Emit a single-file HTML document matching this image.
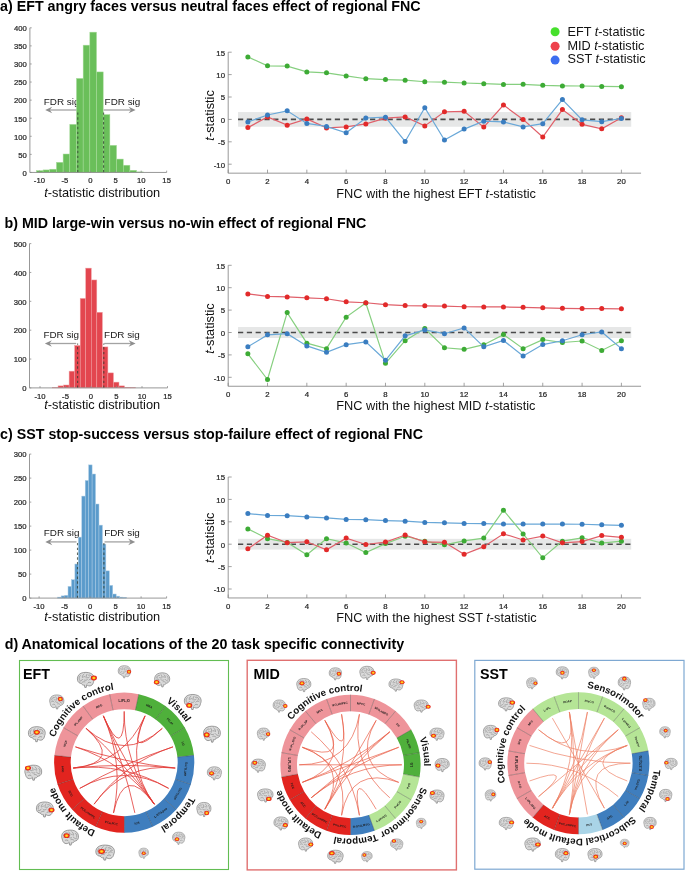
<!DOCTYPE html>
<html><head><meta charset="utf-8"><style>
html,body{margin:0;padding:0;background:#fff;}
body{width:685px;height:871px;overflow:hidden;}
svg{display:block;font-family:"Liberation Sans", sans-serif;will-change:transform;}
.tk{stroke:#262626;stroke-width:0.22px;}
.lb{stroke:#111;stroke-width:0.2px;}
</style></head><body>
<svg width="685" height="871" viewBox="0 0 685 871" font-family='"Liberation Sans", sans-serif'>
<text x="0.10" y="10.80" font-size="14.25" text-anchor="start" font-weight="bold" fill="#000" >a) EFT angry faces versus neutral faces effect of regional FNC</text>
<text x="4.50" y="227.90" font-size="14.25" text-anchor="start" font-weight="bold" fill="#000" >b) MID large-win versus no-win effect of regional FNC</text>
<text x="0.10" y="439.00" font-size="14.25" text-anchor="start" font-weight="bold" fill="#000" >c) SST stop-success versus stop-failure effect of regional FNC</text>
<text x="4.70" y="648.80" font-size="14.25" text-anchor="start" font-weight="bold" fill="#000" >d) Anatomical locations of the 20 task specific connectivity</text>
<line x1="76.8" y1="110.0" x2="49.20" y2="110.0" stroke="#a3a3a3" stroke-width="1.3"/>
<path d="M45.20,110.00 L52.20,106.70 L49.80,110.00 L52.20,113.30 Z" fill="#8e8e8e"/>
<line x1="103.6" y1="110.0" x2="131.60" y2="110.0" stroke="#a3a3a3" stroke-width="1.3"/>
<path d="M135.60,110.00 L128.60,106.70 L131.00,110.00 L128.60,113.30 Z" fill="#8e8e8e"/>
<text x="43.80" y="104.50" font-size="9.9" text-anchor="start" font-weight="normal" fill="#1a1a1a" >FDR sig</text>
<text x="104.60" y="104.50" font-size="9.9" text-anchor="start" font-weight="normal" fill="#1a1a1a" >FDR sig</text>
<rect x="36.40" y="170.64" width="6.68" height="1.81" fill="#6abf5a" stroke="#a8dc9c" stroke-width="0.5"/>
<rect x="43.08" y="169.92" width="6.68" height="2.53" fill="#6abf5a" stroke="#a8dc9c" stroke-width="0.5"/>
<rect x="49.76" y="169.20" width="6.68" height="3.25" fill="#6abf5a" stroke="#a8dc9c" stroke-width="0.5"/>
<rect x="56.44" y="162.33" width="6.68" height="10.12" fill="#6abf5a" stroke="#a8dc9c" stroke-width="0.5"/>
<rect x="63.12" y="154.01" width="6.68" height="18.44" fill="#6abf5a" stroke="#a8dc9c" stroke-width="0.5"/>
<rect x="69.80" y="124.36" width="6.68" height="48.09" fill="#6abf5a" stroke="#a8dc9c" stroke-width="0.5"/>
<rect x="76.48" y="78.43" width="6.68" height="94.02" fill="#6abf5a" stroke="#a8dc9c" stroke-width="0.5"/>
<rect x="83.16" y="45.17" width="6.68" height="127.28" fill="#6abf5a" stroke="#a8dc9c" stroke-width="0.5"/>
<rect x="89.84" y="32.15" width="6.68" height="140.30" fill="#6abf5a" stroke="#a8dc9c" stroke-width="0.5"/>
<rect x="96.52" y="71.93" width="6.68" height="100.52" fill="#6abf5a" stroke="#a8dc9c" stroke-width="0.5"/>
<rect x="103.20" y="114.59" width="6.68" height="57.86" fill="#6abf5a" stroke="#a8dc9c" stroke-width="0.5"/>
<rect x="109.88" y="145.33" width="6.68" height="27.12" fill="#6abf5a" stroke="#a8dc9c" stroke-width="0.5"/>
<rect x="116.56" y="159.07" width="6.68" height="13.38" fill="#6abf5a" stroke="#a8dc9c" stroke-width="0.5"/>
<rect x="123.24" y="165.22" width="6.68" height="7.23" fill="#6abf5a" stroke="#a8dc9c" stroke-width="0.5"/>
<rect x="129.92" y="170.28" width="6.68" height="2.17" fill="#6abf5a" stroke="#a8dc9c" stroke-width="0.5"/>
<rect x="136.60" y="171.91" width="6.68" height="0.54" fill="#6abf5a" stroke="#a8dc9c" stroke-width="0.5"/>
<line x1="77.8" y1="172.45" x2="77.8" y2="110.0" stroke="#2e3a2e" stroke-width="1.1" stroke-dasharray="2.4,2.4" opacity="0.75"/>
<line x1="103.6" y1="172.45" x2="103.6" y2="110.0" stroke="#2e3a2e" stroke-width="1.1" stroke-dasharray="2.4,2.4" opacity="0.75"/>
<path d="M29.9,27.81 L29.9,172.45 L166.65,172.45" fill="none" stroke="#8c8c8c" stroke-width="0.9"/>
<line x1="29.9" y1="172.45" x2="31.7" y2="172.45" stroke="#8c8c8c" stroke-width="0.8"/>
<text x="26.90" y="175.75" font-size="7.7" text-anchor="end" font-weight="normal" fill="#262626" class="tk">0</text>
<line x1="29.9" y1="154.37" x2="31.7" y2="154.37" stroke="#8c8c8c" stroke-width="0.8"/>
<text x="26.90" y="157.67" font-size="7.7" text-anchor="end" font-weight="normal" fill="#262626" class="tk">50</text>
<line x1="29.9" y1="136.29" x2="31.7" y2="136.29" stroke="#8c8c8c" stroke-width="0.8"/>
<text x="26.90" y="139.59" font-size="7.7" text-anchor="end" font-weight="normal" fill="#262626" class="tk">100</text>
<line x1="29.9" y1="118.21" x2="31.7" y2="118.21" stroke="#8c8c8c" stroke-width="0.8"/>
<text x="26.90" y="121.51" font-size="7.7" text-anchor="end" font-weight="normal" fill="#262626" class="tk">150</text>
<line x1="29.9" y1="100.13" x2="31.7" y2="100.13" stroke="#8c8c8c" stroke-width="0.8"/>
<text x="26.90" y="103.43" font-size="7.7" text-anchor="end" font-weight="normal" fill="#262626" class="tk">200</text>
<line x1="29.9" y1="82.05" x2="31.7" y2="82.05" stroke="#8c8c8c" stroke-width="0.8"/>
<text x="26.90" y="85.35" font-size="7.7" text-anchor="end" font-weight="normal" fill="#262626" class="tk">250</text>
<line x1="29.9" y1="63.97" x2="31.7" y2="63.97" stroke="#8c8c8c" stroke-width="0.8"/>
<text x="26.90" y="67.27" font-size="7.7" text-anchor="end" font-weight="normal" fill="#262626" class="tk">300</text>
<line x1="29.9" y1="45.89" x2="31.7" y2="45.89" stroke="#8c8c8c" stroke-width="0.8"/>
<text x="26.90" y="49.19" font-size="7.7" text-anchor="end" font-weight="normal" fill="#262626" class="tk">350</text>
<line x1="29.9" y1="27.81" x2="31.7" y2="27.81" stroke="#8c8c8c" stroke-width="0.8"/>
<text x="26.90" y="31.11" font-size="7.7" text-anchor="end" font-weight="normal" fill="#262626" class="tk">400</text>
<line x1="39.40" y1="172.45" x2="39.40" y2="170.64999999999998" stroke="#8c8c8c" stroke-width="0.8"/>
<text x="39.40" y="183.00" font-size="7.7" text-anchor="middle" font-weight="normal" fill="#262626" class="tk">-10</text>
<line x1="64.85" y1="172.45" x2="64.85" y2="170.64999999999998" stroke="#8c8c8c" stroke-width="0.8"/>
<text x="64.85" y="183.00" font-size="7.7" text-anchor="middle" font-weight="normal" fill="#262626" class="tk">-5</text>
<line x1="90.30" y1="172.45" x2="90.30" y2="170.64999999999998" stroke="#8c8c8c" stroke-width="0.8"/>
<text x="90.30" y="183.00" font-size="7.7" text-anchor="middle" font-weight="normal" fill="#262626" class="tk">0</text>
<line x1="115.75" y1="172.45" x2="115.75" y2="170.64999999999998" stroke="#8c8c8c" stroke-width="0.8"/>
<text x="115.75" y="183.00" font-size="7.7" text-anchor="middle" font-weight="normal" fill="#262626" class="tk">5</text>
<line x1="141.20" y1="172.45" x2="141.20" y2="170.64999999999998" stroke="#8c8c8c" stroke-width="0.8"/>
<text x="141.20" y="183.00" font-size="7.7" text-anchor="middle" font-weight="normal" fill="#262626" class="tk">10</text>
<line x1="166.65" y1="172.45" x2="166.65" y2="170.64999999999998" stroke="#8c8c8c" stroke-width="0.8"/>
<text x="166.65" y="183.00" font-size="7.7" text-anchor="middle" font-weight="normal" fill="#262626" class="tk">15</text>
<text x="44.2" y="197.0" font-size="12.8" fill="#111"><tspan font-style="italic">t</tspan>-statistic distribution</text>
<line x1="76.2" y1="343.5" x2="48.90" y2="343.5" stroke="#a3a3a3" stroke-width="1.3"/>
<path d="M44.90,343.50 L51.90,340.20 L49.50,343.50 L51.90,346.80 Z" fill="#8e8e8e"/>
<line x1="104.3" y1="343.5" x2="131.60" y2="343.5" stroke="#a3a3a3" stroke-width="1.3"/>
<path d="M135.60,343.50 L128.60,340.20 L131.00,343.50 L128.60,346.80 Z" fill="#8e8e8e"/>
<text x="43.40" y="338.40" font-size="9.9" text-anchor="start" font-weight="normal" fill="#1a1a1a" >FDR sig</text>
<text x="104.10" y="338.40" font-size="9.9" text-anchor="start" font-weight="normal" fill="#1a1a1a" >FDR sig</text>
<rect x="52.50" y="387.61" width="5.54" height="0.29" fill="#e3464f" stroke="#f0a0a4" stroke-width="0.5"/>
<rect x="58.04" y="385.88" width="5.54" height="2.02" fill="#e3464f" stroke="#f0a0a4" stroke-width="0.5"/>
<rect x="63.58" y="385.01" width="5.54" height="2.89" fill="#e3464f" stroke="#f0a0a4" stroke-width="0.5"/>
<rect x="69.12" y="371.16" width="5.54" height="16.74" fill="#e3464f" stroke="#f0a0a4" stroke-width="0.5"/>
<rect x="74.66" y="345.48" width="5.54" height="42.42" fill="#e3464f" stroke="#f0a0a4" stroke-width="0.5"/>
<rect x="80.20" y="298.43" width="5.54" height="89.47" fill="#e3464f" stroke="#f0a0a4" stroke-width="0.5"/>
<rect x="85.74" y="268.13" width="5.54" height="119.77" fill="#e3464f" stroke="#f0a0a4" stroke-width="0.5"/>
<rect x="91.28" y="279.96" width="5.54" height="107.94" fill="#e3464f" stroke="#f0a0a4" stroke-width="0.5"/>
<rect x="96.82" y="312.29" width="5.54" height="75.61" fill="#e3464f" stroke="#f0a0a4" stroke-width="0.5"/>
<rect x="102.36" y="346.92" width="5.54" height="40.98" fill="#e3464f" stroke="#f0a0a4" stroke-width="0.5"/>
<rect x="107.90" y="372.89" width="5.54" height="15.01" fill="#e3464f" stroke="#f0a0a4" stroke-width="0.5"/>
<rect x="113.44" y="382.13" width="5.54" height="5.77" fill="#e3464f" stroke="#f0a0a4" stroke-width="0.5"/>
<rect x="118.98" y="385.88" width="5.54" height="2.02" fill="#e3464f" stroke="#f0a0a4" stroke-width="0.5"/>
<rect x="124.52" y="387.32" width="5.54" height="0.58" fill="#e3464f" stroke="#f0a0a4" stroke-width="0.5"/>
<rect x="130.06" y="387.61" width="5.54" height="0.29" fill="#e3464f" stroke="#f0a0a4" stroke-width="0.5"/>
<line x1="77.6" y1="387.9" x2="77.6" y2="343.5" stroke="#2e3a2e" stroke-width="1.1" stroke-dasharray="2.4,2.4" opacity="0.75"/>
<line x1="103.8" y1="387.9" x2="103.8" y2="343.5" stroke="#2e3a2e" stroke-width="1.1" stroke-dasharray="2.4,2.4" opacity="0.75"/>
<path d="M29.5,243.60 L29.5,387.9 L167.50,387.9" fill="none" stroke="#8c8c8c" stroke-width="0.9"/>
<line x1="29.5" y1="387.90" x2="31.3" y2="387.90" stroke="#8c8c8c" stroke-width="0.8"/>
<text x="26.50" y="391.20" font-size="7.7" text-anchor="end" font-weight="normal" fill="#262626" class="tk">0</text>
<line x1="29.5" y1="359.04" x2="31.3" y2="359.04" stroke="#8c8c8c" stroke-width="0.8"/>
<text x="26.50" y="362.34" font-size="7.7" text-anchor="end" font-weight="normal" fill="#262626" class="tk">100</text>
<line x1="29.5" y1="330.18" x2="31.3" y2="330.18" stroke="#8c8c8c" stroke-width="0.8"/>
<text x="26.50" y="333.48" font-size="7.7" text-anchor="end" font-weight="normal" fill="#262626" class="tk">200</text>
<line x1="29.5" y1="301.32" x2="31.3" y2="301.32" stroke="#8c8c8c" stroke-width="0.8"/>
<text x="26.50" y="304.62" font-size="7.7" text-anchor="end" font-weight="normal" fill="#262626" class="tk">300</text>
<line x1="29.5" y1="272.46" x2="31.3" y2="272.46" stroke="#8c8c8c" stroke-width="0.8"/>
<text x="26.50" y="275.76" font-size="7.7" text-anchor="end" font-weight="normal" fill="#262626" class="tk">400</text>
<line x1="29.5" y1="243.60" x2="31.3" y2="243.60" stroke="#8c8c8c" stroke-width="0.8"/>
<text x="26.50" y="246.90" font-size="7.7" text-anchor="end" font-weight="normal" fill="#262626" class="tk">500</text>
<line x1="40.00" y1="387.9" x2="40.00" y2="386.09999999999997" stroke="#8c8c8c" stroke-width="0.8"/>
<text x="40.00" y="399.00" font-size="7.7" text-anchor="middle" font-weight="normal" fill="#262626" class="tk">-10</text>
<line x1="65.50" y1="387.9" x2="65.50" y2="386.09999999999997" stroke="#8c8c8c" stroke-width="0.8"/>
<text x="65.50" y="399.00" font-size="7.7" text-anchor="middle" font-weight="normal" fill="#262626" class="tk">-5</text>
<line x1="91.00" y1="387.9" x2="91.00" y2="386.09999999999997" stroke="#8c8c8c" stroke-width="0.8"/>
<text x="91.00" y="399.00" font-size="7.7" text-anchor="middle" font-weight="normal" fill="#262626" class="tk">0</text>
<line x1="116.50" y1="387.9" x2="116.50" y2="386.09999999999997" stroke="#8c8c8c" stroke-width="0.8"/>
<text x="116.50" y="399.00" font-size="7.7" text-anchor="middle" font-weight="normal" fill="#262626" class="tk">5</text>
<line x1="142.00" y1="387.9" x2="142.00" y2="386.09999999999997" stroke="#8c8c8c" stroke-width="0.8"/>
<text x="142.00" y="399.00" font-size="7.7" text-anchor="middle" font-weight="normal" fill="#262626" class="tk">10</text>
<line x1="167.50" y1="387.9" x2="167.50" y2="386.09999999999997" stroke="#8c8c8c" stroke-width="0.8"/>
<text x="167.50" y="399.00" font-size="7.7" text-anchor="middle" font-weight="normal" fill="#262626" class="tk">15</text>
<text x="44.2" y="409.2" font-size="12.8" fill="#111"><tspan font-style="italic">t</tspan>-statistic distribution</text>
<line x1="76.5" y1="541.9" x2="49.30" y2="541.9" stroke="#a3a3a3" stroke-width="1.3"/>
<path d="M45.30,541.90 L52.30,538.60 L49.90,541.90 L52.30,545.20 Z" fill="#8e8e8e"/>
<line x1="104.5" y1="541.9" x2="131.20" y2="541.9" stroke="#a3a3a3" stroke-width="1.3"/>
<path d="M135.20,541.90 L128.20,538.60 L130.60,541.90 L128.20,545.20 Z" fill="#8e8e8e"/>
<text x="43.80" y="536.20" font-size="9.9" text-anchor="start" font-weight="normal" fill="#1a1a1a" >FDR sig</text>
<text x="104.20" y="536.20" font-size="9.9" text-anchor="start" font-weight="normal" fill="#1a1a1a" >FDR sig</text>
<rect x="57.70" y="597.14" width="3.44" height="0.96" fill="#5b9bcb" stroke="#a9cbe5" stroke-width="0.5"/>
<rect x="61.14" y="595.89" width="3.44" height="2.21" fill="#5b9bcb" stroke="#a9cbe5" stroke-width="0.5"/>
<rect x="64.58" y="595.32" width="3.44" height="2.78" fill="#5b9bcb" stroke="#a9cbe5" stroke-width="0.5"/>
<rect x="68.02" y="586.39" width="3.44" height="11.71" fill="#5b9bcb" stroke="#a9cbe5" stroke-width="0.5"/>
<rect x="71.46" y="579.72" width="3.44" height="18.38" fill="#5b9bcb" stroke="#a9cbe5" stroke-width="0.5"/>
<rect x="74.90" y="564.02" width="3.44" height="34.08" fill="#5b9bcb" stroke="#a9cbe5" stroke-width="0.5"/>
<rect x="78.34" y="537.14" width="3.44" height="60.96" fill="#5b9bcb" stroke="#a9cbe5" stroke-width="0.5"/>
<rect x="81.78" y="496.10" width="3.44" height="102.00" fill="#5b9bcb" stroke="#a9cbe5" stroke-width="0.5"/>
<rect x="85.22" y="480.50" width="3.44" height="117.60" fill="#5b9bcb" stroke="#a9cbe5" stroke-width="0.5"/>
<rect x="88.66" y="464.90" width="3.44" height="133.20" fill="#5b9bcb" stroke="#a9cbe5" stroke-width="0.5"/>
<rect x="92.10" y="474.02" width="3.44" height="124.08" fill="#5b9bcb" stroke="#a9cbe5" stroke-width="0.5"/>
<rect x="95.54" y="504.02" width="3.44" height="94.08" fill="#5b9bcb" stroke="#a9cbe5" stroke-width="0.5"/>
<rect x="98.98" y="525.14" width="3.44" height="72.96" fill="#5b9bcb" stroke="#a9cbe5" stroke-width="0.5"/>
<rect x="102.42" y="544.10" width="3.44" height="54.00" fill="#5b9bcb" stroke="#a9cbe5" stroke-width="0.5"/>
<rect x="105.86" y="570.88" width="3.44" height="27.22" fill="#5b9bcb" stroke="#a9cbe5" stroke-width="0.5"/>
<rect x="109.30" y="585.38" width="3.44" height="12.72" fill="#5b9bcb" stroke="#a9cbe5" stroke-width="0.5"/>
<rect x="112.74" y="594.02" width="3.44" height="4.08" fill="#5b9bcb" stroke="#a9cbe5" stroke-width="0.5"/>
<rect x="116.18" y="596.18" width="3.44" height="1.92" fill="#5b9bcb" stroke="#a9cbe5" stroke-width="0.5"/>
<rect x="119.62" y="597.14" width="3.44" height="0.96" fill="#5b9bcb" stroke="#a9cbe5" stroke-width="0.5"/>
<rect x="123.06" y="597.38" width="3.44" height="0.72" fill="#5b9bcb" stroke="#a9cbe5" stroke-width="0.5"/>
<line x1="77.5" y1="598.1" x2="77.5" y2="541.9" stroke="#2e3a2e" stroke-width="1.1" stroke-dasharray="2.4,2.4" opacity="0.75"/>
<line x1="103.9" y1="598.1" x2="103.9" y2="541.9" stroke="#2e3a2e" stroke-width="1.1" stroke-dasharray="2.4,2.4" opacity="0.75"/>
<path d="M29.5,454.10 L29.5,598.1 L166.60,598.1" fill="none" stroke="#8c8c8c" stroke-width="0.9"/>
<line x1="29.5" y1="598.10" x2="31.3" y2="598.10" stroke="#8c8c8c" stroke-width="0.8"/>
<text x="26.50" y="601.40" font-size="7.7" text-anchor="end" font-weight="normal" fill="#262626" class="tk">0</text>
<line x1="29.5" y1="574.10" x2="31.3" y2="574.10" stroke="#8c8c8c" stroke-width="0.8"/>
<text x="26.50" y="577.40" font-size="7.7" text-anchor="end" font-weight="normal" fill="#262626" class="tk">50</text>
<line x1="29.5" y1="550.10" x2="31.3" y2="550.10" stroke="#8c8c8c" stroke-width="0.8"/>
<text x="26.50" y="553.40" font-size="7.7" text-anchor="end" font-weight="normal" fill="#262626" class="tk">100</text>
<line x1="29.5" y1="526.10" x2="31.3" y2="526.10" stroke="#8c8c8c" stroke-width="0.8"/>
<text x="26.50" y="529.40" font-size="7.7" text-anchor="end" font-weight="normal" fill="#262626" class="tk">150</text>
<line x1="29.5" y1="502.10" x2="31.3" y2="502.10" stroke="#8c8c8c" stroke-width="0.8"/>
<text x="26.50" y="505.40" font-size="7.7" text-anchor="end" font-weight="normal" fill="#262626" class="tk">200</text>
<line x1="29.5" y1="478.10" x2="31.3" y2="478.10" stroke="#8c8c8c" stroke-width="0.8"/>
<text x="26.50" y="481.40" font-size="7.7" text-anchor="end" font-weight="normal" fill="#262626" class="tk">250</text>
<line x1="29.5" y1="454.10" x2="31.3" y2="454.10" stroke="#8c8c8c" stroke-width="0.8"/>
<text x="26.50" y="457.40" font-size="7.7" text-anchor="end" font-weight="normal" fill="#262626" class="tk">300</text>
<line x1="39.10" y1="598.1" x2="39.10" y2="596.3000000000001" stroke="#8c8c8c" stroke-width="0.8"/>
<text x="39.10" y="609.00" font-size="7.7" text-anchor="middle" font-weight="normal" fill="#262626" class="tk">-10</text>
<line x1="64.60" y1="598.1" x2="64.60" y2="596.3000000000001" stroke="#8c8c8c" stroke-width="0.8"/>
<text x="64.60" y="609.00" font-size="7.7" text-anchor="middle" font-weight="normal" fill="#262626" class="tk">-5</text>
<line x1="90.10" y1="598.1" x2="90.10" y2="596.3000000000001" stroke="#8c8c8c" stroke-width="0.8"/>
<text x="90.10" y="609.00" font-size="7.7" text-anchor="middle" font-weight="normal" fill="#262626" class="tk">0</text>
<line x1="115.60" y1="598.1" x2="115.60" y2="596.3000000000001" stroke="#8c8c8c" stroke-width="0.8"/>
<text x="115.60" y="609.00" font-size="7.7" text-anchor="middle" font-weight="normal" fill="#262626" class="tk">5</text>
<line x1="141.10" y1="598.1" x2="141.10" y2="596.3000000000001" stroke="#8c8c8c" stroke-width="0.8"/>
<text x="141.10" y="609.00" font-size="7.7" text-anchor="middle" font-weight="normal" fill="#262626" class="tk">10</text>
<line x1="166.60" y1="598.1" x2="166.60" y2="596.3000000000001" stroke="#8c8c8c" stroke-width="0.8"/>
<text x="166.60" y="609.00" font-size="7.7" text-anchor="middle" font-weight="normal" fill="#262626" class="tk">15</text>
<text x="44.2" y="621.0" font-size="12.8" fill="#111"><tspan font-style="italic">t</tspan>-statistic distribution</text>
<rect x="238.03" y="112.05" width="393.20" height="14.69" fill="#e6e7e7"/>
<line x1="238.03" y1="119.4" x2="631.23" y2="119.4" stroke="#4a4a4a" stroke-width="1.6" stroke-dasharray="5.2,3.6"/>
<path d="M228.2,52.20 L228.2,173.16 L641.06,173.16" fill="none" stroke="#8c8c8c" stroke-width="0.9"/>
<line x1="228.2" y1="164.20" x2="231.7" y2="164.20" stroke="#8c8c8c" stroke-width="0.8"/>
<text x="225.00" y="167.50" font-size="7.8" text-anchor="end" font-weight="normal" fill="#262626" class="tk">-10</text>
<line x1="228.2" y1="141.80" x2="231.7" y2="141.80" stroke="#8c8c8c" stroke-width="0.8"/>
<text x="225.00" y="145.10" font-size="7.8" text-anchor="end" font-weight="normal" fill="#262626" class="tk">-5</text>
<line x1="228.2" y1="119.40" x2="231.7" y2="119.40" stroke="#8c8c8c" stroke-width="0.8"/>
<text x="225.00" y="122.70" font-size="7.8" text-anchor="end" font-weight="normal" fill="#262626" class="tk">0</text>
<line x1="228.2" y1="97.00" x2="231.7" y2="97.00" stroke="#8c8c8c" stroke-width="0.8"/>
<text x="225.00" y="100.30" font-size="7.8" text-anchor="end" font-weight="normal" fill="#262626" class="tk">5</text>
<line x1="228.2" y1="74.60" x2="231.7" y2="74.60" stroke="#8c8c8c" stroke-width="0.8"/>
<text x="225.00" y="77.90" font-size="7.8" text-anchor="end" font-weight="normal" fill="#262626" class="tk">10</text>
<line x1="228.2" y1="52.20" x2="231.7" y2="52.20" stroke="#8c8c8c" stroke-width="0.8"/>
<text x="225.00" y="55.50" font-size="7.8" text-anchor="end" font-weight="normal" fill="#262626" class="tk">15</text>
<line x1="228.20" y1="173.16" x2="228.20" y2="169.66" stroke="#8c8c8c" stroke-width="0.8"/>
<text x="228.20" y="183.80" font-size="7.8" text-anchor="middle" font-weight="normal" fill="#262626" class="tk">0</text>
<line x1="267.52" y1="173.16" x2="267.52" y2="169.66" stroke="#8c8c8c" stroke-width="0.8"/>
<text x="267.52" y="183.80" font-size="7.8" text-anchor="middle" font-weight="normal" fill="#262626" class="tk">2</text>
<line x1="306.84" y1="173.16" x2="306.84" y2="169.66" stroke="#8c8c8c" stroke-width="0.8"/>
<text x="306.84" y="183.80" font-size="7.8" text-anchor="middle" font-weight="normal" fill="#262626" class="tk">4</text>
<line x1="346.16" y1="173.16" x2="346.16" y2="169.66" stroke="#8c8c8c" stroke-width="0.8"/>
<text x="346.16" y="183.80" font-size="7.8" text-anchor="middle" font-weight="normal" fill="#262626" class="tk">6</text>
<line x1="385.48" y1="173.16" x2="385.48" y2="169.66" stroke="#8c8c8c" stroke-width="0.8"/>
<text x="385.48" y="183.80" font-size="7.8" text-anchor="middle" font-weight="normal" fill="#262626" class="tk">8</text>
<line x1="424.80" y1="173.16" x2="424.80" y2="169.66" stroke="#8c8c8c" stroke-width="0.8"/>
<text x="424.80" y="183.80" font-size="7.8" text-anchor="middle" font-weight="normal" fill="#262626" class="tk">10</text>
<line x1="464.12" y1="173.16" x2="464.12" y2="169.66" stroke="#8c8c8c" stroke-width="0.8"/>
<text x="464.12" y="183.80" font-size="7.8" text-anchor="middle" font-weight="normal" fill="#262626" class="tk">12</text>
<line x1="503.44" y1="173.16" x2="503.44" y2="169.66" stroke="#8c8c8c" stroke-width="0.8"/>
<text x="503.44" y="183.80" font-size="7.8" text-anchor="middle" font-weight="normal" fill="#262626" class="tk">14</text>
<line x1="542.76" y1="173.16" x2="542.76" y2="169.66" stroke="#8c8c8c" stroke-width="0.8"/>
<text x="542.76" y="183.80" font-size="7.8" text-anchor="middle" font-weight="normal" fill="#262626" class="tk">16</text>
<line x1="582.08" y1="173.16" x2="582.08" y2="169.66" stroke="#8c8c8c" stroke-width="0.8"/>
<text x="582.08" y="183.80" font-size="7.8" text-anchor="middle" font-weight="normal" fill="#262626" class="tk">18</text>
<line x1="621.40" y1="173.16" x2="621.40" y2="169.66" stroke="#8c8c8c" stroke-width="0.8"/>
<text x="621.40" y="183.80" font-size="7.8" text-anchor="middle" font-weight="normal" fill="#262626" class="tk">20</text>
<polyline points="247.86,56.90 267.52,65.82 287.18,66.09 306.84,71.91 326.50,72.81 346.16,75.94 365.82,78.72 385.48,79.53 405.14,80.20 424.80,81.77 444.46,82.22 464.12,82.98 483.78,83.69 503.44,84.46 523.10,84.28 542.76,85.35 562.42,85.89 582.08,86.02 601.74,86.38 621.40,86.70" fill="none" stroke="#86cf7f" stroke-width="1.2"/>
<circle cx="247.86" cy="56.90" r="2.5" fill="#3dab35"/>
<circle cx="267.52" cy="65.82" r="2.5" fill="#3dab35"/>
<circle cx="287.18" cy="66.09" r="2.5" fill="#3dab35"/>
<circle cx="306.84" cy="71.91" r="2.5" fill="#3dab35"/>
<circle cx="326.50" cy="72.81" r="2.5" fill="#3dab35"/>
<circle cx="346.16" cy="75.94" r="2.5" fill="#3dab35"/>
<circle cx="365.82" cy="78.72" r="2.5" fill="#3dab35"/>
<circle cx="385.48" cy="79.53" r="2.5" fill="#3dab35"/>
<circle cx="405.14" cy="80.20" r="2.5" fill="#3dab35"/>
<circle cx="424.80" cy="81.77" r="2.5" fill="#3dab35"/>
<circle cx="444.46" cy="82.22" r="2.5" fill="#3dab35"/>
<circle cx="464.12" cy="82.98" r="2.5" fill="#3dab35"/>
<circle cx="483.78" cy="83.69" r="2.5" fill="#3dab35"/>
<circle cx="503.44" cy="84.46" r="2.5" fill="#3dab35"/>
<circle cx="523.10" cy="84.28" r="2.5" fill="#3dab35"/>
<circle cx="542.76" cy="85.35" r="2.5" fill="#3dab35"/>
<circle cx="562.42" cy="85.89" r="2.5" fill="#3dab35"/>
<circle cx="582.08" cy="86.02" r="2.5" fill="#3dab35"/>
<circle cx="601.74" cy="86.38" r="2.5" fill="#3dab35"/>
<circle cx="621.40" cy="86.70" r="2.5" fill="#3dab35"/>
<polyline points="247.86,127.60 267.52,116.98 287.18,125.13 306.84,118.95 326.50,127.91 346.16,126.88 365.82,123.88 385.48,118.19 405.14,116.98 424.80,125.90 444.46,111.78 464.12,111.34 483.78,127.11 503.44,105.06 523.10,119.40 542.76,137.05 562.42,109.54 582.08,124.33 601.74,128.81 621.40,117.70" fill="none" stroke="#e0606a" stroke-width="1.2"/>
<circle cx="247.86" cy="127.60" r="2.5" fill="#e22a2a"/>
<circle cx="267.52" cy="116.98" r="2.5" fill="#e22a2a"/>
<circle cx="287.18" cy="125.13" r="2.5" fill="#e22a2a"/>
<circle cx="306.84" cy="118.95" r="2.5" fill="#e22a2a"/>
<circle cx="326.50" cy="127.91" r="2.5" fill="#e22a2a"/>
<circle cx="346.16" cy="126.88" r="2.5" fill="#e22a2a"/>
<circle cx="365.82" cy="123.88" r="2.5" fill="#e22a2a"/>
<circle cx="385.48" cy="118.19" r="2.5" fill="#e22a2a"/>
<circle cx="405.14" cy="116.98" r="2.5" fill="#e22a2a"/>
<circle cx="424.80" cy="125.90" r="2.5" fill="#e22a2a"/>
<circle cx="444.46" cy="111.78" r="2.5" fill="#e22a2a"/>
<circle cx="464.12" cy="111.34" r="2.5" fill="#e22a2a"/>
<circle cx="483.78" cy="127.11" r="2.5" fill="#e22a2a"/>
<circle cx="503.44" cy="105.06" r="2.5" fill="#e22a2a"/>
<circle cx="523.10" cy="119.40" r="2.5" fill="#e22a2a"/>
<circle cx="542.76" cy="137.05" r="2.5" fill="#e22a2a"/>
<circle cx="562.42" cy="109.54" r="2.5" fill="#e22a2a"/>
<circle cx="582.08" cy="124.33" r="2.5" fill="#e22a2a"/>
<circle cx="601.74" cy="128.81" r="2.5" fill="#e22a2a"/>
<circle cx="621.40" cy="117.70" r="2.5" fill="#e22a2a"/>
<polyline points="247.86,121.91 267.52,115.01 287.18,110.80 306.84,123.43 326.50,126.39 346.16,132.84 365.82,118.01 385.48,117.20 405.14,141.49 424.80,107.75 444.46,140.01 464.12,129.12 483.78,121.19 503.44,121.91 523.10,126.88 542.76,123.70 562.42,99.60 582.08,119.85 601.74,121.64 621.40,118.50" fill="none" stroke="#6aa8d8" stroke-width="1.2"/>
<circle cx="247.86" cy="121.91" r="2.5" fill="#3a7dc0"/>
<circle cx="267.52" cy="115.01" r="2.5" fill="#3a7dc0"/>
<circle cx="287.18" cy="110.80" r="2.5" fill="#3a7dc0"/>
<circle cx="306.84" cy="123.43" r="2.5" fill="#3a7dc0"/>
<circle cx="326.50" cy="126.39" r="2.5" fill="#3a7dc0"/>
<circle cx="346.16" cy="132.84" r="2.5" fill="#3a7dc0"/>
<circle cx="365.82" cy="118.01" r="2.5" fill="#3a7dc0"/>
<circle cx="385.48" cy="117.20" r="2.5" fill="#3a7dc0"/>
<circle cx="405.14" cy="141.49" r="2.5" fill="#3a7dc0"/>
<circle cx="424.80" cy="107.75" r="2.5" fill="#3a7dc0"/>
<circle cx="444.46" cy="140.01" r="2.5" fill="#3a7dc0"/>
<circle cx="464.12" cy="129.12" r="2.5" fill="#3a7dc0"/>
<circle cx="483.78" cy="121.19" r="2.5" fill="#3a7dc0"/>
<circle cx="503.44" cy="121.91" r="2.5" fill="#3a7dc0"/>
<circle cx="523.10" cy="126.88" r="2.5" fill="#3a7dc0"/>
<circle cx="542.76" cy="123.70" r="2.5" fill="#3a7dc0"/>
<circle cx="562.42" cy="99.60" r="2.5" fill="#3a7dc0"/>
<circle cx="582.08" cy="119.85" r="2.5" fill="#3a7dc0"/>
<circle cx="601.74" cy="121.64" r="2.5" fill="#3a7dc0"/>
<circle cx="621.40" cy="118.50" r="2.5" fill="#3a7dc0"/>
<text transform="translate(214.2,115.40) rotate(-90)" font-size="12.8" text-anchor="middle" fill="#111"><tspan font-style="italic">t</tspan>-statistic</text>
<text x="336.3" y="198.0" font-size="12.75" fill="#111">FNC with the highest EFT <tspan font-style="italic">t</tspan>-statistic</text>
<rect x="238.03" y="327.03" width="393.20" height="10.93" fill="#e6e7e7"/>
<line x1="238.03" y1="332.5" x2="631.23" y2="332.5" stroke="#4a4a4a" stroke-width="1.6" stroke-dasharray="5.2,3.6"/>
<path d="M228.2,265.30 L228.2,386.26 L641.06,386.26" fill="none" stroke="#8c8c8c" stroke-width="0.9"/>
<line x1="228.2" y1="377.30" x2="231.7" y2="377.30" stroke="#8c8c8c" stroke-width="0.8"/>
<text x="225.00" y="380.60" font-size="7.8" text-anchor="end" font-weight="normal" fill="#262626" class="tk">-10</text>
<line x1="228.2" y1="354.90" x2="231.7" y2="354.90" stroke="#8c8c8c" stroke-width="0.8"/>
<text x="225.00" y="358.20" font-size="7.8" text-anchor="end" font-weight="normal" fill="#262626" class="tk">-5</text>
<line x1="228.2" y1="332.50" x2="231.7" y2="332.50" stroke="#8c8c8c" stroke-width="0.8"/>
<text x="225.00" y="335.80" font-size="7.8" text-anchor="end" font-weight="normal" fill="#262626" class="tk">0</text>
<line x1="228.2" y1="310.10" x2="231.7" y2="310.10" stroke="#8c8c8c" stroke-width="0.8"/>
<text x="225.00" y="313.40" font-size="7.8" text-anchor="end" font-weight="normal" fill="#262626" class="tk">5</text>
<line x1="228.2" y1="287.70" x2="231.7" y2="287.70" stroke="#8c8c8c" stroke-width="0.8"/>
<text x="225.00" y="291.00" font-size="7.8" text-anchor="end" font-weight="normal" fill="#262626" class="tk">10</text>
<line x1="228.2" y1="265.30" x2="231.7" y2="265.30" stroke="#8c8c8c" stroke-width="0.8"/>
<text x="225.00" y="268.60" font-size="7.8" text-anchor="end" font-weight="normal" fill="#262626" class="tk">15</text>
<line x1="228.20" y1="386.26" x2="228.20" y2="382.76" stroke="#8c8c8c" stroke-width="0.8"/>
<text x="228.20" y="396.80" font-size="7.8" text-anchor="middle" font-weight="normal" fill="#262626" class="tk">0</text>
<line x1="267.52" y1="386.26" x2="267.52" y2="382.76" stroke="#8c8c8c" stroke-width="0.8"/>
<text x="267.52" y="396.80" font-size="7.8" text-anchor="middle" font-weight="normal" fill="#262626" class="tk">2</text>
<line x1="306.84" y1="386.26" x2="306.84" y2="382.76" stroke="#8c8c8c" stroke-width="0.8"/>
<text x="306.84" y="396.80" font-size="7.8" text-anchor="middle" font-weight="normal" fill="#262626" class="tk">4</text>
<line x1="346.16" y1="386.26" x2="346.16" y2="382.76" stroke="#8c8c8c" stroke-width="0.8"/>
<text x="346.16" y="396.80" font-size="7.8" text-anchor="middle" font-weight="normal" fill="#262626" class="tk">6</text>
<line x1="385.48" y1="386.26" x2="385.48" y2="382.76" stroke="#8c8c8c" stroke-width="0.8"/>
<text x="385.48" y="396.80" font-size="7.8" text-anchor="middle" font-weight="normal" fill="#262626" class="tk">8</text>
<line x1="424.80" y1="386.26" x2="424.80" y2="382.76" stroke="#8c8c8c" stroke-width="0.8"/>
<text x="424.80" y="396.80" font-size="7.8" text-anchor="middle" font-weight="normal" fill="#262626" class="tk">10</text>
<line x1="464.12" y1="386.26" x2="464.12" y2="382.76" stroke="#8c8c8c" stroke-width="0.8"/>
<text x="464.12" y="396.80" font-size="7.8" text-anchor="middle" font-weight="normal" fill="#262626" class="tk">12</text>
<line x1="503.44" y1="386.26" x2="503.44" y2="382.76" stroke="#8c8c8c" stroke-width="0.8"/>
<text x="503.44" y="396.80" font-size="7.8" text-anchor="middle" font-weight="normal" fill="#262626" class="tk">14</text>
<line x1="542.76" y1="386.26" x2="542.76" y2="382.76" stroke="#8c8c8c" stroke-width="0.8"/>
<text x="542.76" y="396.80" font-size="7.8" text-anchor="middle" font-weight="normal" fill="#262626" class="tk">16</text>
<line x1="582.08" y1="386.26" x2="582.08" y2="382.76" stroke="#8c8c8c" stroke-width="0.8"/>
<text x="582.08" y="396.80" font-size="7.8" text-anchor="middle" font-weight="normal" fill="#262626" class="tk">18</text>
<line x1="621.40" y1="386.26" x2="621.40" y2="382.76" stroke="#8c8c8c" stroke-width="0.8"/>
<text x="621.40" y="396.80" font-size="7.8" text-anchor="middle" font-weight="normal" fill="#262626" class="tk">20</text>
<polyline points="247.86,353.87 267.52,379.54 287.18,312.56 306.84,343.16 326.50,348.63 346.16,317.13 365.82,303.07 385.48,363.32 405.14,340.70 424.80,328.47 444.46,347.73 464.12,349.30 483.78,344.69 503.44,334.61 523.10,348.63 542.76,339.58 562.42,342.49 582.08,341.01 601.74,350.42 621.40,340.79" fill="none" stroke="#86cf7f" stroke-width="1.2"/>
<circle cx="247.86" cy="353.87" r="2.5" fill="#3dab35"/>
<circle cx="267.52" cy="379.54" r="2.5" fill="#3dab35"/>
<circle cx="287.18" cy="312.56" r="2.5" fill="#3dab35"/>
<circle cx="306.84" cy="343.16" r="2.5" fill="#3dab35"/>
<circle cx="326.50" cy="348.63" r="2.5" fill="#3dab35"/>
<circle cx="346.16" cy="317.13" r="2.5" fill="#3dab35"/>
<circle cx="365.82" cy="303.07" r="2.5" fill="#3dab35"/>
<circle cx="385.48" cy="363.32" r="2.5" fill="#3dab35"/>
<circle cx="405.14" cy="340.70" r="2.5" fill="#3dab35"/>
<circle cx="424.80" cy="328.47" r="2.5" fill="#3dab35"/>
<circle cx="444.46" cy="347.73" r="2.5" fill="#3dab35"/>
<circle cx="464.12" cy="349.30" r="2.5" fill="#3dab35"/>
<circle cx="483.78" cy="344.69" r="2.5" fill="#3dab35"/>
<circle cx="503.44" cy="334.61" r="2.5" fill="#3dab35"/>
<circle cx="523.10" cy="348.63" r="2.5" fill="#3dab35"/>
<circle cx="542.76" cy="339.58" r="2.5" fill="#3dab35"/>
<circle cx="562.42" cy="342.49" r="2.5" fill="#3dab35"/>
<circle cx="582.08" cy="341.01" r="2.5" fill="#3dab35"/>
<circle cx="601.74" cy="350.42" r="2.5" fill="#3dab35"/>
<circle cx="621.40" cy="340.79" r="2.5" fill="#3dab35"/>
<polyline points="247.86,346.84 267.52,334.87 287.18,333.71 306.84,345.94 326.50,352.35 346.16,344.69 365.82,341.91 385.48,360.28 405.14,335.82 424.80,329.99 444.46,333.71 464.12,327.93 483.78,346.84 503.44,340.43 523.10,355.98 542.76,344.60 562.42,340.79 582.08,334.74 601.74,331.92 621.40,348.63" fill="none" stroke="#6aa8d8" stroke-width="1.2"/>
<circle cx="247.86" cy="346.84" r="2.5" fill="#3a7dc0"/>
<circle cx="267.52" cy="334.87" r="2.5" fill="#3a7dc0"/>
<circle cx="287.18" cy="333.71" r="2.5" fill="#3a7dc0"/>
<circle cx="306.84" cy="345.94" r="2.5" fill="#3a7dc0"/>
<circle cx="326.50" cy="352.35" r="2.5" fill="#3a7dc0"/>
<circle cx="346.16" cy="344.69" r="2.5" fill="#3a7dc0"/>
<circle cx="365.82" cy="341.91" r="2.5" fill="#3a7dc0"/>
<circle cx="385.48" cy="360.28" r="2.5" fill="#3a7dc0"/>
<circle cx="405.14" cy="335.82" r="2.5" fill="#3a7dc0"/>
<circle cx="424.80" cy="329.99" r="2.5" fill="#3a7dc0"/>
<circle cx="444.46" cy="333.71" r="2.5" fill="#3a7dc0"/>
<circle cx="464.12" cy="327.93" r="2.5" fill="#3a7dc0"/>
<circle cx="483.78" cy="346.84" r="2.5" fill="#3a7dc0"/>
<circle cx="503.44" cy="340.43" r="2.5" fill="#3a7dc0"/>
<circle cx="523.10" cy="355.98" r="2.5" fill="#3a7dc0"/>
<circle cx="542.76" cy="344.60" r="2.5" fill="#3a7dc0"/>
<circle cx="562.42" cy="340.79" r="2.5" fill="#3a7dc0"/>
<circle cx="582.08" cy="334.74" r="2.5" fill="#3a7dc0"/>
<circle cx="601.74" cy="331.92" r="2.5" fill="#3a7dc0"/>
<circle cx="621.40" cy="348.63" r="2.5" fill="#3a7dc0"/>
<polyline points="247.86,293.88 267.52,296.39 287.18,296.97 306.84,297.87 326.50,298.77 346.16,301.86 365.82,302.75 385.48,304.68 405.14,305.58 424.80,305.84 444.46,306.07 464.12,306.74 483.78,306.96 503.44,306.96 523.10,307.37 542.76,307.86 562.42,308.35 582.08,308.53 601.74,308.53 621.40,308.85" fill="none" stroke="#e0606a" stroke-width="1.2"/>
<circle cx="247.86" cy="293.88" r="2.5" fill="#e22a2a"/>
<circle cx="267.52" cy="296.39" r="2.5" fill="#e22a2a"/>
<circle cx="287.18" cy="296.97" r="2.5" fill="#e22a2a"/>
<circle cx="306.84" cy="297.87" r="2.5" fill="#e22a2a"/>
<circle cx="326.50" cy="298.77" r="2.5" fill="#e22a2a"/>
<circle cx="346.16" cy="301.86" r="2.5" fill="#e22a2a"/>
<circle cx="365.82" cy="302.75" r="2.5" fill="#e22a2a"/>
<circle cx="385.48" cy="304.68" r="2.5" fill="#e22a2a"/>
<circle cx="405.14" cy="305.58" r="2.5" fill="#e22a2a"/>
<circle cx="424.80" cy="305.84" r="2.5" fill="#e22a2a"/>
<circle cx="444.46" cy="306.07" r="2.5" fill="#e22a2a"/>
<circle cx="464.12" cy="306.74" r="2.5" fill="#e22a2a"/>
<circle cx="483.78" cy="306.96" r="2.5" fill="#e22a2a"/>
<circle cx="503.44" cy="306.96" r="2.5" fill="#e22a2a"/>
<circle cx="523.10" cy="307.37" r="2.5" fill="#e22a2a"/>
<circle cx="542.76" cy="307.86" r="2.5" fill="#e22a2a"/>
<circle cx="562.42" cy="308.35" r="2.5" fill="#e22a2a"/>
<circle cx="582.08" cy="308.53" r="2.5" fill="#e22a2a"/>
<circle cx="601.74" cy="308.53" r="2.5" fill="#e22a2a"/>
<circle cx="621.40" cy="308.85" r="2.5" fill="#e22a2a"/>
<text transform="translate(214.2,328.50) rotate(-90)" font-size="12.8" text-anchor="middle" fill="#111"><tspan font-style="italic">t</tspan>-statistic</text>
<text x="336.3" y="410.1" font-size="12.75" fill="#111">FNC with the highest MID <tspan font-style="italic">t</tspan>-statistic</text>
<rect x="238.03" y="538.82" width="393.20" height="10.75" fill="#e6e7e7"/>
<line x1="238.03" y1="544.2" x2="631.23" y2="544.2" stroke="#4a4a4a" stroke-width="1.6" stroke-dasharray="5.2,3.6"/>
<path d="M228.2,477.00 L228.2,597.96 L641.06,597.96" fill="none" stroke="#8c8c8c" stroke-width="0.9"/>
<line x1="228.2" y1="589.00" x2="231.7" y2="589.00" stroke="#8c8c8c" stroke-width="0.8"/>
<text x="225.00" y="592.30" font-size="7.8" text-anchor="end" font-weight="normal" fill="#262626" class="tk">-10</text>
<line x1="228.2" y1="566.60" x2="231.7" y2="566.60" stroke="#8c8c8c" stroke-width="0.8"/>
<text x="225.00" y="569.90" font-size="7.8" text-anchor="end" font-weight="normal" fill="#262626" class="tk">-5</text>
<line x1="228.2" y1="544.20" x2="231.7" y2="544.20" stroke="#8c8c8c" stroke-width="0.8"/>
<text x="225.00" y="547.50" font-size="7.8" text-anchor="end" font-weight="normal" fill="#262626" class="tk">0</text>
<line x1="228.2" y1="521.80" x2="231.7" y2="521.80" stroke="#8c8c8c" stroke-width="0.8"/>
<text x="225.00" y="525.10" font-size="7.8" text-anchor="end" font-weight="normal" fill="#262626" class="tk">5</text>
<line x1="228.2" y1="499.40" x2="231.7" y2="499.40" stroke="#8c8c8c" stroke-width="0.8"/>
<text x="225.00" y="502.70" font-size="7.8" text-anchor="end" font-weight="normal" fill="#262626" class="tk">10</text>
<line x1="228.2" y1="477.00" x2="231.7" y2="477.00" stroke="#8c8c8c" stroke-width="0.8"/>
<text x="225.00" y="480.30" font-size="7.8" text-anchor="end" font-weight="normal" fill="#262626" class="tk">15</text>
<line x1="228.20" y1="597.96" x2="228.20" y2="594.46" stroke="#8c8c8c" stroke-width="0.8"/>
<text x="228.20" y="608.60" font-size="7.8" text-anchor="middle" font-weight="normal" fill="#262626" class="tk">0</text>
<line x1="267.52" y1="597.96" x2="267.52" y2="594.46" stroke="#8c8c8c" stroke-width="0.8"/>
<text x="267.52" y="608.60" font-size="7.8" text-anchor="middle" font-weight="normal" fill="#262626" class="tk">2</text>
<line x1="306.84" y1="597.96" x2="306.84" y2="594.46" stroke="#8c8c8c" stroke-width="0.8"/>
<text x="306.84" y="608.60" font-size="7.8" text-anchor="middle" font-weight="normal" fill="#262626" class="tk">4</text>
<line x1="346.16" y1="597.96" x2="346.16" y2="594.46" stroke="#8c8c8c" stroke-width="0.8"/>
<text x="346.16" y="608.60" font-size="7.8" text-anchor="middle" font-weight="normal" fill="#262626" class="tk">6</text>
<line x1="385.48" y1="597.96" x2="385.48" y2="594.46" stroke="#8c8c8c" stroke-width="0.8"/>
<text x="385.48" y="608.60" font-size="7.8" text-anchor="middle" font-weight="normal" fill="#262626" class="tk">8</text>
<line x1="424.80" y1="597.96" x2="424.80" y2="594.46" stroke="#8c8c8c" stroke-width="0.8"/>
<text x="424.80" y="608.60" font-size="7.8" text-anchor="middle" font-weight="normal" fill="#262626" class="tk">10</text>
<line x1="464.12" y1="597.96" x2="464.12" y2="594.46" stroke="#8c8c8c" stroke-width="0.8"/>
<text x="464.12" y="608.60" font-size="7.8" text-anchor="middle" font-weight="normal" fill="#262626" class="tk">12</text>
<line x1="503.44" y1="597.96" x2="503.44" y2="594.46" stroke="#8c8c8c" stroke-width="0.8"/>
<text x="503.44" y="608.60" font-size="7.8" text-anchor="middle" font-weight="normal" fill="#262626" class="tk">14</text>
<line x1="542.76" y1="597.96" x2="542.76" y2="594.46" stroke="#8c8c8c" stroke-width="0.8"/>
<text x="542.76" y="608.60" font-size="7.8" text-anchor="middle" font-weight="normal" fill="#262626" class="tk">16</text>
<line x1="582.08" y1="597.96" x2="582.08" y2="594.46" stroke="#8c8c8c" stroke-width="0.8"/>
<text x="582.08" y="608.60" font-size="7.8" text-anchor="middle" font-weight="normal" fill="#262626" class="tk">18</text>
<line x1="621.40" y1="597.96" x2="621.40" y2="594.46" stroke="#8c8c8c" stroke-width="0.8"/>
<text x="621.40" y="608.60" font-size="7.8" text-anchor="middle" font-weight="normal" fill="#262626" class="tk">20</text>
<polyline points="247.86,513.60 267.52,515.39 287.18,515.71 306.84,516.92 326.50,517.90 346.16,519.38 365.82,519.69 385.48,520.59 405.14,521.22 424.80,522.47 444.46,522.79 464.12,523.41 483.78,523.59 503.44,524.04 523.10,524.08 542.76,524.08 562.42,524.08 582.08,524.26 601.74,524.80 621.40,525.29" fill="none" stroke="#6aa8d8" stroke-width="1.2"/>
<circle cx="247.86" cy="513.60" r="2.5" fill="#3a7dc0"/>
<circle cx="267.52" cy="515.39" r="2.5" fill="#3a7dc0"/>
<circle cx="287.18" cy="515.71" r="2.5" fill="#3a7dc0"/>
<circle cx="306.84" cy="516.92" r="2.5" fill="#3a7dc0"/>
<circle cx="326.50" cy="517.90" r="2.5" fill="#3a7dc0"/>
<circle cx="346.16" cy="519.38" r="2.5" fill="#3a7dc0"/>
<circle cx="365.82" cy="519.69" r="2.5" fill="#3a7dc0"/>
<circle cx="385.48" cy="520.59" r="2.5" fill="#3a7dc0"/>
<circle cx="405.14" cy="521.22" r="2.5" fill="#3a7dc0"/>
<circle cx="424.80" cy="522.47" r="2.5" fill="#3a7dc0"/>
<circle cx="444.46" cy="522.79" r="2.5" fill="#3a7dc0"/>
<circle cx="464.12" cy="523.41" r="2.5" fill="#3a7dc0"/>
<circle cx="483.78" cy="523.59" r="2.5" fill="#3a7dc0"/>
<circle cx="503.44" cy="524.04" r="2.5" fill="#3a7dc0"/>
<circle cx="523.10" cy="524.08" r="2.5" fill="#3a7dc0"/>
<circle cx="542.76" cy="524.08" r="2.5" fill="#3a7dc0"/>
<circle cx="562.42" cy="524.08" r="2.5" fill="#3a7dc0"/>
<circle cx="582.08" cy="524.26" r="2.5" fill="#3a7dc0"/>
<circle cx="601.74" cy="524.80" r="2.5" fill="#3a7dc0"/>
<circle cx="621.40" cy="525.29" r="2.5" fill="#3a7dc0"/>
<polyline points="247.86,528.88 267.52,538.69 287.18,542.41 306.84,554.68 326.50,538.69 346.16,542.99 365.82,552.49 385.48,543.62 405.14,536.27 424.80,541.15 444.46,544.83 464.12,540.88 483.78,538.11 503.44,510.20 523.10,533.90 542.76,557.77 562.42,541.15 582.08,537.79 601.74,543.08 621.40,541.15" fill="none" stroke="#86cf7f" stroke-width="1.2"/>
<circle cx="247.86" cy="528.88" r="2.5" fill="#3dab35"/>
<circle cx="267.52" cy="538.69" r="2.5" fill="#3dab35"/>
<circle cx="287.18" cy="542.41" r="2.5" fill="#3dab35"/>
<circle cx="306.84" cy="554.68" r="2.5" fill="#3dab35"/>
<circle cx="326.50" cy="538.69" r="2.5" fill="#3dab35"/>
<circle cx="346.16" cy="542.99" r="2.5" fill="#3dab35"/>
<circle cx="365.82" cy="552.49" r="2.5" fill="#3dab35"/>
<circle cx="385.48" cy="543.62" r="2.5" fill="#3dab35"/>
<circle cx="405.14" cy="536.27" r="2.5" fill="#3dab35"/>
<circle cx="424.80" cy="541.15" r="2.5" fill="#3dab35"/>
<circle cx="444.46" cy="544.83" r="2.5" fill="#3dab35"/>
<circle cx="464.12" cy="540.88" r="2.5" fill="#3dab35"/>
<circle cx="483.78" cy="538.11" r="2.5" fill="#3dab35"/>
<circle cx="503.44" cy="510.20" r="2.5" fill="#3dab35"/>
<circle cx="523.10" cy="533.90" r="2.5" fill="#3dab35"/>
<circle cx="542.76" cy="557.77" r="2.5" fill="#3dab35"/>
<circle cx="562.42" cy="541.15" r="2.5" fill="#3dab35"/>
<circle cx="582.08" cy="537.79" r="2.5" fill="#3dab35"/>
<circle cx="601.74" cy="543.08" r="2.5" fill="#3dab35"/>
<circle cx="621.40" cy="541.15" r="2.5" fill="#3dab35"/>
<polyline points="247.86,548.81 267.52,535.28 287.18,542.72 306.84,541.78 326.50,549.71 346.16,538.11 365.82,544.51 385.48,542.09 405.14,535.02 424.80,541.78 444.46,542.36 464.12,554.32 483.78,546.66 503.44,533.81 523.10,539.99 542.76,536.05 562.42,542.81 582.08,541.60 601.74,535.60 621.40,537.30" fill="none" stroke="#e0606a" stroke-width="1.2"/>
<circle cx="247.86" cy="548.81" r="2.5" fill="#e22a2a"/>
<circle cx="267.52" cy="535.28" r="2.5" fill="#e22a2a"/>
<circle cx="287.18" cy="542.72" r="2.5" fill="#e22a2a"/>
<circle cx="306.84" cy="541.78" r="2.5" fill="#e22a2a"/>
<circle cx="326.50" cy="549.71" r="2.5" fill="#e22a2a"/>
<circle cx="346.16" cy="538.11" r="2.5" fill="#e22a2a"/>
<circle cx="365.82" cy="544.51" r="2.5" fill="#e22a2a"/>
<circle cx="385.48" cy="542.09" r="2.5" fill="#e22a2a"/>
<circle cx="405.14" cy="535.02" r="2.5" fill="#e22a2a"/>
<circle cx="424.80" cy="541.78" r="2.5" fill="#e22a2a"/>
<circle cx="444.46" cy="542.36" r="2.5" fill="#e22a2a"/>
<circle cx="464.12" cy="554.32" r="2.5" fill="#e22a2a"/>
<circle cx="483.78" cy="546.66" r="2.5" fill="#e22a2a"/>
<circle cx="503.44" cy="533.81" r="2.5" fill="#e22a2a"/>
<circle cx="523.10" cy="539.99" r="2.5" fill="#e22a2a"/>
<circle cx="542.76" cy="536.05" r="2.5" fill="#e22a2a"/>
<circle cx="562.42" cy="542.81" r="2.5" fill="#e22a2a"/>
<circle cx="582.08" cy="541.60" r="2.5" fill="#e22a2a"/>
<circle cx="601.74" cy="535.60" r="2.5" fill="#e22a2a"/>
<circle cx="621.40" cy="537.30" r="2.5" fill="#e22a2a"/>
<text transform="translate(214.2,537.80) rotate(-90)" font-size="12.8" text-anchor="middle" fill="#111"><tspan font-style="italic">t</tspan>-statistic</text>
<text x="336.3" y="622.2" font-size="12.75" fill="#111">FNC with the highest SST <tspan font-style="italic">t</tspan>-statistic</text>
<circle cx="555.1" cy="31.8" r="4.5" fill="#46e02c"/>
<text x="567.5" y="35.80" font-size="12.7" fill="#111">EFT <tspan font-style="italic">t</tspan>-statistic</text>
<circle cx="555.1" cy="46.3" r="4.5" fill="#ee424c"/>
<text x="567.5" y="49.50" font-size="12.7" fill="#111">MID <tspan font-style="italic">t</tspan>-statistic</text>
<circle cx="555.1" cy="60.1" r="4.5" fill="#3d6ef0"/>
<text x="567.5" y="63.20" font-size="12.7" fill="#111">SST <tspan font-style="italic">t</tspan>-statistic</text>
<rect x="19.5" y="660.5" width="209" height="209" fill="none" stroke="#62bd52" stroke-width="1.1"/>
<rect x="247.2" y="660.3" width="209.2" height="209.6" fill="none" stroke="#e07070" stroke-width="1.4"/>
<rect x="474.8" y="660.4" width="209.2" height="208.8" fill="none" stroke="#7ea8d2" stroke-width="1.2"/>
<text x="23.0" y="679.0" font-size="14.3" font-weight="bold">EFT</text>
<text x="253.5" y="679.3" font-size="14.3" font-weight="bold">MID</text>
<text x="480.0" y="679.3" font-size="14.3" font-weight="bold">SST</text>
<path d="M109.63,694.13 A70.1,70.1 0 0 1 138.77,694.13 L135.32,710.37 A53.5,53.5 0 0 0 113.08,710.37 Z" fill="#ee949a"/>
<path d="M138.77,694.13 A70.1,70.1 0 0 1 165.40,705.99 L155.65,719.42 A53.5,53.5 0 0 0 135.32,710.37 Z" fill="#4fb03b"/>
<path d="M165.40,705.99 A70.1,70.1 0 0 1 184.91,727.65 L170.53,735.95 A53.5,53.5 0 0 0 155.65,719.42 Z" fill="#4fb03b"/>
<path d="M184.91,727.65 A70.1,70.1 0 0 1 193.92,755.37 L177.41,757.11 A53.5,53.5 0 0 0 170.53,735.95 Z" fill="#4fb03b"/>
<path d="M193.92,755.37 A70.1,70.1 0 0 1 190.87,784.36 L175.08,779.23 A53.5,53.5 0 0 0 177.41,757.11 Z" fill="#3f7ebe"/>
<path d="M190.87,784.36 A70.1,70.1 0 0 1 176.29,809.61 L163.96,798.50 A53.5,53.5 0 0 0 175.08,779.23 Z" fill="#3f7ebe"/>
<path d="M176.29,809.61 A70.1,70.1 0 0 1 152.71,826.74 L145.96,811.57 A53.5,53.5 0 0 0 163.96,798.50 Z" fill="#3f7ebe"/>
<path d="M152.71,826.74 A70.1,70.1 0 0 1 124.20,832.80 L124.20,816.20 A53.5,53.5 0 0 0 145.96,811.57 Z" fill="#3f7ebe"/>
<path d="M124.20,832.80 A70.1,70.1 0 0 1 95.69,826.74 L102.44,811.57 A53.5,53.5 0 0 0 124.20,816.20 Z" fill="#e2241f"/>
<path d="M95.69,826.74 A70.1,70.1 0 0 1 72.11,809.61 L84.44,798.50 A53.5,53.5 0 0 0 102.44,811.57 Z" fill="#e2241f"/>
<path d="M72.11,809.61 A70.1,70.1 0 0 1 57.53,784.36 L73.32,779.23 A53.5,53.5 0 0 0 84.44,798.50 Z" fill="#e2241f"/>
<path d="M57.53,784.36 A70.1,70.1 0 0 1 54.48,755.37 L70.99,757.11 A53.5,53.5 0 0 0 73.32,779.23 Z" fill="#e2241f"/>
<path d="M54.48,755.37 A70.1,70.1 0 0 1 63.49,727.65 L77.87,735.95 A53.5,53.5 0 0 0 70.99,757.11 Z" fill="#ee949a"/>
<path d="M63.49,727.65 A70.1,70.1 0 0 1 83.00,705.99 L92.75,719.42 A53.5,53.5 0 0 0 77.87,735.95 Z" fill="#ee949a"/>
<path d="M83.00,705.99 A70.1,70.1 0 0 1 109.63,694.13 L113.08,710.37 A53.5,53.5 0 0 0 92.75,719.42 Z" fill="#ee949a"/>
<line x1="113.08" y1="710.37" x2="109.63" y2="694.13" stroke="#333" stroke-width="0.4" opacity="0.85"/>
<line x1="135.32" y1="710.37" x2="138.77" y2="694.13" stroke="#333" stroke-width="0.4" opacity="0.85"/>
<line x1="155.65" y1="719.42" x2="165.40" y2="705.99" stroke="#333" stroke-width="0.4" opacity="0.85"/>
<line x1="170.53" y1="735.95" x2="184.91" y2="727.65" stroke="#333" stroke-width="0.4" opacity="0.85"/>
<line x1="177.41" y1="757.11" x2="193.92" y2="755.37" stroke="#333" stroke-width="0.4" opacity="0.85"/>
<line x1="175.08" y1="779.23" x2="190.87" y2="784.36" stroke="#333" stroke-width="0.4" opacity="0.85"/>
<line x1="163.96" y1="798.50" x2="176.29" y2="809.61" stroke="#333" stroke-width="0.4" opacity="0.85"/>
<line x1="145.96" y1="811.57" x2="152.71" y2="826.74" stroke="#333" stroke-width="0.4" opacity="0.85"/>
<line x1="124.20" y1="816.20" x2="124.20" y2="832.80" stroke="#333" stroke-width="0.4" opacity="0.85"/>
<line x1="102.44" y1="811.57" x2="95.69" y2="826.74" stroke="#333" stroke-width="0.4" opacity="0.85"/>
<line x1="84.44" y1="798.50" x2="72.11" y2="809.61" stroke="#333" stroke-width="0.4" opacity="0.85"/>
<line x1="73.32" y1="779.23" x2="57.53" y2="784.36" stroke="#333" stroke-width="0.4" opacity="0.85"/>
<line x1="70.99" y1="757.11" x2="54.48" y2="755.37" stroke="#333" stroke-width="0.4" opacity="0.85"/>
<line x1="77.87" y1="735.95" x2="63.49" y2="727.65" stroke="#333" stroke-width="0.4" opacity="0.85"/>
<line x1="92.75" y1="719.42" x2="83.00" y2="705.99" stroke="#333" stroke-width="0.4" opacity="0.85"/>
<text transform="translate(124.20,700.90) rotate(0.0)" font-size="3.0" font-weight="bold" text-anchor="middle" dy="1.0" fill="#1a1a1a">L-IPL,IO</text>
<text transform="translate(149.34,706.24) rotate(24.0)" font-size="3.0" font-weight="bold" text-anchor="middle" dy="1.0" fill="#1a1a1a">MBA</text>
<text transform="translate(170.13,721.35) rotate(48.0)" font-size="3.0" font-weight="bold" text-anchor="middle" dy="1.0" fill="#1a1a1a">FG,ex</text>
<text transform="translate(182.98,743.60) rotate(72.0)" font-size="3.0" font-weight="bold" text-anchor="middle" dy="1.0" fill="#1a1a1a">LG</text>
<text transform="translate(185.66,769.16) rotate(-84.0)" font-size="3.0" font-weight="bold" text-anchor="middle" dy="1.0" fill="#1a1a1a">aMTG,ITG</text>
<text transform="translate(177.72,793.60) rotate(-60.0)" font-size="3.0" font-weight="bold" text-anchor="middle" dy="1.0" fill="#1a1a1a">aSTG,ITG</text>
<text transform="translate(160.53,812.70) rotate(-36.0)" font-size="3.0" font-weight="bold" text-anchor="middle" dy="1.0" fill="#1a1a1a">L-STG,pos</text>
<text transform="translate(137.05,823.15) rotate(-12.0)" font-size="3.0" font-weight="bold" text-anchor="middle" dy="1.0" fill="#1a1a1a">ICS</text>
<text transform="translate(111.35,823.15) rotate(12.0)" font-size="3.0" font-weight="bold" text-anchor="middle" dy="1.0" fill="#1a1a1a">PCu,PCC</text>
<text transform="translate(87.87,812.70) rotate(36.0)" font-size="3.0" font-weight="bold" text-anchor="middle" dy="1.0" fill="#1a1a1a">PCC,vmPFC</text>
<text transform="translate(70.68,793.60) rotate(60.0)" font-size="3.0" font-weight="bold" text-anchor="middle" dy="1.0" fill="#1a1a1a">SCC</text>
<text transform="translate(62.74,769.16) rotate(84.0)" font-size="3.0" font-weight="bold" text-anchor="middle" dy="1.0" fill="#1a1a1a">ACC</text>
<text transform="translate(65.42,743.60) rotate(288.0)" font-size="3.0" font-weight="bold" text-anchor="middle" dy="1.0" fill="#1a1a1a">MCF</text>
<text transform="translate(78.27,721.35) rotate(312.0)" font-size="3.0" font-weight="bold" text-anchor="middle" dy="1.0" fill="#1a1a1a">IPL,aMF</text>
<text transform="translate(99.06,706.24) rotate(336.0)" font-size="3.0" font-weight="bold" text-anchor="middle" dy="1.0" fill="#1a1a1a">MFG</text>
<path d="M124.20,711.40 Q124.20,762.70 103.33,715.84" fill="none" stroke="#e23a36" stroke-width="0.8"/>
<path d="M145.07,715.84 Q124.20,762.70 162.32,728.37" fill="none" stroke="#e23a36" stroke-width="0.8"/>
<path d="M86.08,728.37 Q124.20,762.70 162.32,728.37" fill="none" stroke="#e23a36" stroke-width="0.8"/>
<path d="M86.08,728.37 Q124.20,762.70 73.18,768.06" fill="none" stroke="#e23a36" stroke-width="0.8"/>
<path d="M103.33,715.84 Q124.20,762.70 154.35,804.20" fill="none" stroke="#e23a36" stroke-width="0.8"/>
<path d="M86.08,728.37 Q124.20,762.70 154.35,804.20" fill="none" stroke="#e23a36" stroke-width="0.8"/>
<path d="M113.53,812.88 Q124.20,762.70 154.35,804.20" fill="none" stroke="#e23a36" stroke-width="0.8"/>
<path d="M124.20,711.40 Q124.20,762.70 154.35,804.20" fill="none" stroke="#e23a36" stroke-width="0.8"/>
<path d="M145.07,715.84 Q124.20,762.70 154.35,804.20" fill="none" stroke="#e23a36" stroke-width="0.8"/>
<path d="M103.33,715.84 Q124.20,762.70 134.87,812.88" fill="none" stroke="#e23a36" stroke-width="0.8"/>
<path d="M75.41,746.85 Q124.20,762.70 175.22,768.06" fill="none" stroke="#e23a36" stroke-width="0.8"/>
<path d="M73.18,768.06 Q124.20,762.70 175.22,768.06" fill="none" stroke="#e23a36" stroke-width="0.8"/>
<path d="M94.05,804.20 Q124.20,762.70 175.22,768.06" fill="none" stroke="#e23a36" stroke-width="0.8"/>
<path d="M79.77,788.35 Q124.20,762.70 172.99,746.85" fill="none" stroke="#e23a36" stroke-width="0.8"/>
<path d="M79.77,788.35 Q124.20,762.70 168.63,788.35" fill="none" stroke="#e23a36" stroke-width="0.8"/>
<path d="M75.41,746.85 Q124.20,762.70 154.35,804.20" fill="none" stroke="#e23a36" stroke-width="0.8"/>
<path d="M73.18,768.06 Q124.20,762.70 145.07,715.84" fill="none" stroke="#e23a36" stroke-width="0.8"/>
<path d="M113.53,812.88 Q124.20,762.70 103.33,715.84" fill="none" stroke="#e23a36" stroke-width="0.8"/>
<path d="M94.05,804.20 Q124.20,762.70 172.99,746.85" fill="none" stroke="#e23a36" stroke-width="0.8"/>
<path d="M168.63,788.35 Q124.20,762.70 73.18,768.06" fill="none" stroke="#e23a36" stroke-width="0.8"/>
<path id="g124_0" d="M159.98,827.25 A73.8,73.8 0 1 1 179.90,811.12" fill="none"/>
<text font-size="9.7" font-weight="bold" fill="#111"><textPath href="#g124_0" startOffset="50%" text-anchor="middle">Cognitive control</textPath></text>
<path id="g124_1" d="M63.16,804.18 A73.8,73.8 0 1 1 81.03,822.56" fill="none"/>
<text font-size="9.7" font-weight="bold" fill="#111"><textPath href="#g124_1" startOffset="50%" text-anchor="middle">Visual</textPath></text>
<path id="g124_2" d="M80.82,702.99 A73.8,73.8 0 1 1 63.02,721.43" fill="none"/>
<text font-size="9.7" font-weight="bold" fill="#111"><textPath href="#g124_2" startOffset="50%" text-anchor="middle">Temporal</textPath></text>
<path id="g124_3" d="M185.95,722.29 A73.8,73.8 0 1 1 168.41,703.61" fill="none"/>
<text font-size="9.7" font-weight="bold" fill="#111"><textPath href="#g124_3" startOffset="50%" text-anchor="middle">Default mode</textPath></text>
<g transform="translate(124.40,671.70) scale(-0.700,0.812) translate(-10.5,-8)"><path d="M2.2,9.5 C0.8,6.5 2.0,3.0 5.2,1.6 C8.0,0.3 12.5,0.2 15.5,1.4 C18.6,2.7 19.8,5.6 19.2,8.4 C18.7,10.6 17.0,11.6 15.2,11.6 C14.6,13.0 13.2,13.6 12.0,13.2 L11.6,15.6 L10.0,15.6 L9.6,13.0 C8.6,13.8 6.6,14.6 5.0,13.8 C3.4,13.2 2.6,11.6 2.2,9.5 Z" fill="#dadada" stroke="#7e7e7e" stroke-width="0.75"/><path d="M4,5 C5,3.5 6.5,3 8,3.4 M9,2.2 C10,3.5 10.5,5 10,6.5 M12,2 C13.5,3 14.5,4.5 14,6 M16,3.5 C17.5,5 17.8,6.5 17.2,8 M3.5,8 C4.8,7 6.5,7.2 7.5,8.5 M8.5,7.5 C9.8,8.6 11.5,8.8 12.5,8 M13.5,7.2 C14.8,8.5 16,9.5 17.5,9.2 M5,11 C6.5,10 8,10.5 9,11.8 M11,10.2 C12.5,9.6 14,10.2 14.8,11 M3.2,6.2 C3.8,5.5 5,5.6 5.6,6.4 M6.5,5 C7.5,6 8.6,6.2 9.2,5.6 M11.2,4.2 C11.8,5 12.6,5.4 13.2,5" fill="none" stroke="#8a8a8a" stroke-width="0.7"/></g>
<ellipse cx="129.00" cy="671.70" rx="2.24" ry="1.95" fill="#e5261c"/><ellipse cx="129.00" cy="671.70" rx="1.39" ry="1.21" fill="#ff8a10"/><ellipse cx="129.00" cy="671.70" rx="0.85" ry="0.74" fill="#ffe21e"/>
<g transform="translate(162.20,679.80) scale(0.850,0.938) translate(-10.5,-8)"><path d="M2.2,9.5 C0.8,6.5 2.0,3.0 5.2,1.6 C8.0,0.3 12.5,0.2 15.5,1.4 C18.6,2.7 19.8,5.6 19.2,8.4 C18.7,10.6 17.0,11.6 15.2,11.6 C14.6,13.0 13.2,13.6 12.0,13.2 L11.6,15.6 L10.0,15.6 L9.6,13.0 C8.6,13.8 6.6,14.6 5.0,13.8 C3.4,13.2 2.6,11.6 2.2,9.5 Z" fill="#dadada" stroke="#7e7e7e" stroke-width="0.75"/><path d="M4,5 C5,3.5 6.5,3 8,3.4 M9,2.2 C10,3.5 10.5,5 10,6.5 M12,2 C13.5,3 14.5,4.5 14,6 M16,3.5 C17.5,5 17.8,6.5 17.2,8 M3.5,8 C4.8,7 6.5,7.2 7.5,8.5 M8.5,7.5 C9.8,8.6 11.5,8.8 12.5,8 M13.5,7.2 C14.8,8.5 16,9.5 17.5,9.2 M5,11 C6.5,10 8,10.5 9,11.8 M11,10.2 C12.5,9.6 14,10.2 14.8,11 M3.2,6.2 C3.8,5.5 5,5.6 5.6,6.4 M6.5,5 C7.5,6 8.6,6.2 9.2,5.6 M11.2,4.2 C11.8,5 12.6,5.4 13.2,5" fill="none" stroke="#8a8a8a" stroke-width="0.7"/></g>
<ellipse cx="156.60" cy="682.20" rx="2.72" ry="2.25" fill="#e5261c"/><ellipse cx="156.60" cy="682.20" rx="1.69" ry="1.40" fill="#ff8a10"/><ellipse cx="156.60" cy="682.20" rx="1.03" ry="0.85" fill="#ffe21e"/>
<g transform="translate(192.70,701.90) scale(-0.950,1.000) translate(-10.5,-8)"><path d="M2.2,9.5 C0.8,6.5 2.0,3.0 5.2,1.6 C8.0,0.3 12.5,0.2 15.5,1.4 C18.6,2.7 19.8,5.6 19.2,8.4 C18.7,10.6 17.0,11.6 15.2,11.6 C14.6,13.0 13.2,13.6 12.0,13.2 L11.6,15.6 L10.0,15.6 L9.6,13.0 C8.6,13.8 6.6,14.6 5.0,13.8 C3.4,13.2 2.6,11.6 2.2,9.5 Z" fill="#dadada" stroke="#7e7e7e" stroke-width="0.75"/><path d="M4,5 C5,3.5 6.5,3 8,3.4 M9,2.2 C10,3.5 10.5,5 10,6.5 M12,2 C13.5,3 14.5,4.5 14,6 M16,3.5 C17.5,5 17.8,6.5 17.2,8 M3.5,8 C4.8,7 6.5,7.2 7.5,8.5 M8.5,7.5 C9.8,8.6 11.5,8.8 12.5,8 M13.5,7.2 C14.8,8.5 16,9.5 17.5,9.2 M5,11 C6.5,10 8,10.5 9,11.8 M11,10.2 C12.5,9.6 14,10.2 14.8,11 M3.2,6.2 C3.8,5.5 5,5.6 5.6,6.4 M6.5,5 C7.5,6 8.6,6.2 9.2,5.6 M11.2,4.2 C11.8,5 12.6,5.4 13.2,5" fill="none" stroke="#8a8a8a" stroke-width="0.7"/></g>
<ellipse cx="189.20" cy="705.40" rx="3.04" ry="2.40" fill="#e5261c"/><ellipse cx="189.20" cy="705.40" rx="1.88" ry="1.49" fill="#ff8a10"/><ellipse cx="189.20" cy="705.40" rx="1.16" ry="0.91" fill="#ffe21e"/>
<g transform="translate(212.00,734.10) scale(0.950,1.062) translate(-10.5,-8)"><path d="M2.2,9.5 C0.8,6.5 2.0,3.0 5.2,1.6 C8.0,0.3 12.5,0.2 15.5,1.4 C18.6,2.7 19.8,5.6 19.2,8.4 C18.7,10.6 17.0,11.6 15.2,11.6 C14.6,13.0 13.2,13.6 12.0,13.2 L11.6,15.6 L10.0,15.6 L9.6,13.0 C8.6,13.8 6.6,14.6 5.0,13.8 C3.4,13.2 2.6,11.6 2.2,9.5 Z" fill="#dadada" stroke="#7e7e7e" stroke-width="0.75"/><path d="M4,5 C5,3.5 6.5,3 8,3.4 M9,2.2 C10,3.5 10.5,5 10,6.5 M12,2 C13.5,3 14.5,4.5 14,6 M16,3.5 C17.5,5 17.8,6.5 17.2,8 M3.5,8 C4.8,7 6.5,7.2 7.5,8.5 M8.5,7.5 C9.8,8.6 11.5,8.8 12.5,8 M13.5,7.2 C14.8,8.5 16,9.5 17.5,9.2 M5,11 C6.5,10 8,10.5 9,11.8 M11,10.2 C12.5,9.6 14,10.2 14.8,11 M3.2,6.2 C3.8,5.5 5,5.6 5.6,6.4 M6.5,5 C7.5,6 8.6,6.2 9.2,5.6 M11.2,4.2 C11.8,5 12.6,5.4 13.2,5" fill="none" stroke="#8a8a8a" stroke-width="0.7"/></g>
<ellipse cx="206.70" cy="734.80" rx="3.04" ry="2.55" fill="#e5261c"/><ellipse cx="206.70" cy="734.80" rx="1.88" ry="1.58" fill="#ff8a10"/><ellipse cx="206.70" cy="734.80" rx="1.16" ry="0.97" fill="#ffe21e"/>
<g transform="translate(214.40,773.30) scale(-0.800,0.875) translate(-10.5,-8)"><path d="M2.2,9.5 C0.8,6.5 2.0,3.0 5.2,1.6 C8.0,0.3 12.5,0.2 15.5,1.4 C18.6,2.7 19.8,5.6 19.2,8.4 C18.7,10.6 17.0,11.6 15.2,11.6 C14.6,13.0 13.2,13.6 12.0,13.2 L11.6,15.6 L10.0,15.6 L9.6,13.0 C8.6,13.8 6.6,14.6 5.0,13.8 C3.4,13.2 2.6,11.6 2.2,9.5 Z" fill="#dadada" stroke="#7e7e7e" stroke-width="0.75"/><path d="M4,5 C5,3.5 6.5,3 8,3.4 M9,2.2 C10,3.5 10.5,5 10,6.5 M12,2 C13.5,3 14.5,4.5 14,6 M16,3.5 C17.5,5 17.8,6.5 17.2,8 M3.5,8 C4.8,7 6.5,7.2 7.5,8.5 M8.5,7.5 C9.8,8.6 11.5,8.8 12.5,8 M13.5,7.2 C14.8,8.5 16,9.5 17.5,9.2 M5,11 C6.5,10 8,10.5 9,11.8 M11,10.2 C12.5,9.6 14,10.2 14.8,11 M3.2,6.2 C3.8,5.5 5,5.6 5.6,6.4 M6.5,5 C7.5,6 8.6,6.2 9.2,5.6 M11.2,4.2 C11.8,5 12.6,5.4 13.2,5" fill="none" stroke="#8a8a8a" stroke-width="0.7"/></g>
<ellipse cx="211.60" cy="773.30" rx="2.56" ry="2.10" fill="#e5261c"/><ellipse cx="211.60" cy="773.30" rx="1.59" ry="1.30" fill="#ff8a10"/><ellipse cx="211.60" cy="773.30" rx="0.97" ry="0.80" fill="#ffe21e"/>
<g transform="translate(203.90,809.40) scale(0.800,0.938) translate(-10.5,-8)"><path d="M2.2,9.5 C0.8,6.5 2.0,3.0 5.2,1.6 C8.0,0.3 12.5,0.2 15.5,1.4 C18.6,2.7 19.8,5.6 19.2,8.4 C18.7,10.6 17.0,11.6 15.2,11.6 C14.6,13.0 13.2,13.6 12.0,13.2 L11.6,15.6 L10.0,15.6 L9.6,13.0 C8.6,13.8 6.6,14.6 5.0,13.8 C3.4,13.2 2.6,11.6 2.2,9.5 Z" fill="#dadada" stroke="#7e7e7e" stroke-width="0.75"/><path d="M4,5 C5,3.5 6.5,3 8,3.4 M9,2.2 C10,3.5 10.5,5 10,6.5 M12,2 C13.5,3 14.5,4.5 14,6 M16,3.5 C17.5,5 17.8,6.5 17.2,8 M3.5,8 C4.8,7 6.5,7.2 7.5,8.5 M8.5,7.5 C9.8,8.6 11.5,8.8 12.5,8 M13.5,7.2 C14.8,8.5 16,9.5 17.5,9.2 M5,11 C6.5,10 8,10.5 9,11.8 M11,10.2 C12.5,9.6 14,10.2 14.8,11 M3.2,6.2 C3.8,5.5 5,5.6 5.6,6.4 M6.5,5 C7.5,6 8.6,6.2 9.2,5.6 M11.2,4.2 C11.8,5 12.6,5.4 13.2,5" fill="none" stroke="#8a8a8a" stroke-width="0.7"/></g>
<ellipse cx="206.70" cy="813.00" rx="2.56" ry="2.25" fill="#e5261c"/><ellipse cx="206.70" cy="813.00" rx="1.59" ry="1.40" fill="#ff8a10"/><ellipse cx="206.70" cy="813.00" rx="0.97" ry="0.85" fill="#ffe21e"/>
<g transform="translate(178.70,838.20) scale(-0.700,0.812) translate(-10.5,-8)"><path d="M2.2,9.5 C0.8,6.5 2.0,3.0 5.2,1.6 C8.0,0.3 12.5,0.2 15.5,1.4 C18.6,2.7 19.8,5.6 19.2,8.4 C18.7,10.6 17.0,11.6 15.2,11.6 C14.6,13.0 13.2,13.6 12.0,13.2 L11.6,15.6 L10.0,15.6 L9.6,13.0 C8.6,13.8 6.6,14.6 5.0,13.8 C3.4,13.2 2.6,11.6 2.2,9.5 Z" fill="#dadada" stroke="#7e7e7e" stroke-width="0.75"/><path d="M4,5 C5,3.5 6.5,3 8,3.4 M9,2.2 C10,3.5 10.5,5 10,6.5 M12,2 C13.5,3 14.5,4.5 14,6 M16,3.5 C17.5,5 17.8,6.5 17.2,8 M3.5,8 C4.8,7 6.5,7.2 7.5,8.5 M8.5,7.5 C9.8,8.6 11.5,8.8 12.5,8 M13.5,7.2 C14.8,8.5 16,9.5 17.5,9.2 M5,11 C6.5,10 8,10.5 9,11.8 M11,10.2 C12.5,9.6 14,10.2 14.8,11 M3.2,6.2 C3.8,5.5 5,5.6 5.6,6.4 M6.5,5 C7.5,6 8.6,6.2 9.2,5.6 M11.2,4.2 C11.8,5 12.6,5.4 13.2,5" fill="none" stroke="#8a8a8a" stroke-width="0.7"/></g>
<ellipse cx="177.00" cy="839.20" rx="2.24" ry="1.95" fill="#e5261c"/><ellipse cx="177.00" cy="839.20" rx="1.39" ry="1.21" fill="#ff8a10"/><ellipse cx="177.00" cy="839.20" rx="0.85" ry="0.74" fill="#ffe21e"/>
<g transform="translate(143.70,853.20) scale(0.550,0.688) translate(-10.5,-8)"><path d="M2.2,9.5 C0.8,6.5 2.0,3.0 5.2,1.6 C8.0,0.3 12.5,0.2 15.5,1.4 C18.6,2.7 19.8,5.6 19.2,8.4 C18.7,10.6 17.0,11.6 15.2,11.6 C14.6,13.0 13.2,13.6 12.0,13.2 L11.6,15.6 L10.0,15.6 L9.6,13.0 C8.6,13.8 6.6,14.6 5.0,13.8 C3.4,13.2 2.6,11.6 2.2,9.5 Z" fill="#dadada" stroke="#7e7e7e" stroke-width="0.75"/><path d="M4,5 C5,3.5 6.5,3 8,3.4 M9,2.2 C10,3.5 10.5,5 10,6.5 M12,2 C13.5,3 14.5,4.5 14,6 M16,3.5 C17.5,5 17.8,6.5 17.2,8 M3.5,8 C4.8,7 6.5,7.2 7.5,8.5 M8.5,7.5 C9.8,8.6 11.5,8.8 12.5,8 M13.5,7.2 C14.8,8.5 16,9.5 17.5,9.2 M5,11 C6.5,10 8,10.5 9,11.8 M11,10.2 C12.5,9.6 14,10.2 14.8,11 M3.2,6.2 C3.8,5.5 5,5.6 5.6,6.4 M6.5,5 C7.5,6 8.6,6.2 9.2,5.6 M11.2,4.2 C11.8,5 12.6,5.4 13.2,5" fill="none" stroke="#8a8a8a" stroke-width="0.7"/></g>
<ellipse cx="143.70" cy="853.20" rx="2.00" ry="1.70" fill="#e5261c"/><ellipse cx="143.70" cy="853.20" rx="1.24" ry="1.05" fill="#ff8a10"/><ellipse cx="143.70" cy="853.20" rx="0.76" ry="0.65" fill="#ffe21e"/>
<g transform="translate(105.10,852.50) scale(-1.050,1.000) translate(-10.5,-8)"><path d="M2.2,9.5 C0.8,6.5 2.0,3.0 5.2,1.6 C8.0,0.3 12.5,0.2 15.5,1.4 C18.6,2.7 19.8,5.6 19.2,8.4 C18.7,10.6 17.0,11.6 15.2,11.6 C14.6,13.0 13.2,13.6 12.0,13.2 L11.6,15.6 L10.0,15.6 L9.6,13.0 C8.6,13.8 6.6,14.6 5.0,13.8 C3.4,13.2 2.6,11.6 2.2,9.5 Z" fill="#dadada" stroke="#7e7e7e" stroke-width="0.75"/><path d="M4,5 C5,3.5 6.5,3 8,3.4 M9,2.2 C10,3.5 10.5,5 10,6.5 M12,2 C13.5,3 14.5,4.5 14,6 M16,3.5 C17.5,5 17.8,6.5 17.2,8 M3.5,8 C4.8,7 6.5,7.2 7.5,8.5 M8.5,7.5 C9.8,8.6 11.5,8.8 12.5,8 M13.5,7.2 C14.8,8.5 16,9.5 17.5,9.2 M5,11 C6.5,10 8,10.5 9,11.8 M11,10.2 C12.5,9.6 14,10.2 14.8,11 M3.2,6.2 C3.8,5.5 5,5.6 5.6,6.4 M6.5,5 C7.5,6 8.6,6.2 9.2,5.6 M11.2,4.2 C11.8,5 12.6,5.4 13.2,5" fill="none" stroke="#8a8a8a" stroke-width="0.7"/></g>
<ellipse cx="101.60" cy="851.50" rx="3.36" ry="2.40" fill="#e5261c"/><ellipse cx="101.60" cy="851.50" rx="2.08" ry="1.49" fill="#ff8a10"/><ellipse cx="101.60" cy="851.50" rx="1.28" ry="0.91" fill="#ffe21e"/>
<g transform="translate(70.10,837.50) scale(0.950,1.000) translate(-10.5,-8)"><path d="M2.2,9.5 C0.8,6.5 2.0,3.0 5.2,1.6 C8.0,0.3 12.5,0.2 15.5,1.4 C18.6,2.7 19.8,5.6 19.2,8.4 C18.7,10.6 17.0,11.6 15.2,11.6 C14.6,13.0 13.2,13.6 12.0,13.2 L11.6,15.6 L10.0,15.6 L9.6,13.0 C8.6,13.8 6.6,14.6 5.0,13.8 C3.4,13.2 2.6,11.6 2.2,9.5 Z" fill="#dadada" stroke="#7e7e7e" stroke-width="0.75"/><path d="M4,5 C5,3.5 6.5,3 8,3.4 M9,2.2 C10,3.5 10.5,5 10,6.5 M12,2 C13.5,3 14.5,4.5 14,6 M16,3.5 C17.5,5 17.8,6.5 17.2,8 M3.5,8 C4.8,7 6.5,7.2 7.5,8.5 M8.5,7.5 C9.8,8.6 11.5,8.8 12.5,8 M13.5,7.2 C14.8,8.5 16,9.5 17.5,9.2 M5,11 C6.5,10 8,10.5 9,11.8 M11,10.2 C12.5,9.6 14,10.2 14.8,11 M3.2,6.2 C3.8,5.5 5,5.6 5.6,6.4 M6.5,5 C7.5,6 8.6,6.2 9.2,5.6 M11.2,4.2 C11.8,5 12.6,5.4 13.2,5" fill="none" stroke="#8a8a8a" stroke-width="0.7"/></g>
<ellipse cx="66.60" cy="835.70" rx="3.04" ry="2.40" fill="#e5261c"/><ellipse cx="66.60" cy="835.70" rx="1.88" ry="1.49" fill="#ff8a10"/><ellipse cx="66.60" cy="835.70" rx="1.16" ry="0.91" fill="#ffe21e"/>
<g transform="translate(44.80,809.40) scale(-0.950,1.000) translate(-10.5,-8)"><path d="M2.2,9.5 C0.8,6.5 2.0,3.0 5.2,1.6 C8.0,0.3 12.5,0.2 15.5,1.4 C18.6,2.7 19.8,5.6 19.2,8.4 C18.7,10.6 17.0,11.6 15.2,11.6 C14.6,13.0 13.2,13.6 12.0,13.2 L11.6,15.6 L10.0,15.6 L9.6,13.0 C8.6,13.8 6.6,14.6 5.0,13.8 C3.4,13.2 2.6,11.6 2.2,9.5 Z" fill="#dadada" stroke="#7e7e7e" stroke-width="0.75"/><path d="M4,5 C5,3.5 6.5,3 8,3.4 M9,2.2 C10,3.5 10.5,5 10,6.5 M12,2 C13.5,3 14.5,4.5 14,6 M16,3.5 C17.5,5 17.8,6.5 17.2,8 M3.5,8 C4.8,7 6.5,7.2 7.5,8.5 M8.5,7.5 C9.8,8.6 11.5,8.8 12.5,8 M13.5,7.2 C14.8,8.5 16,9.5 17.5,9.2 M5,11 C6.5,10 8,10.5 9,11.8 M11,10.2 C12.5,9.6 14,10.2 14.8,11 M3.2,6.2 C3.8,5.5 5,5.6 5.6,6.4 M6.5,5 C7.5,6 8.6,6.2 9.2,5.6 M11.2,4.2 C11.8,5 12.6,5.4 13.2,5" fill="none" stroke="#8a8a8a" stroke-width="0.7"/></g>
<ellipse cx="51.50" cy="810.10" rx="3.04" ry="2.40" fill="#e5261c"/><ellipse cx="51.50" cy="810.10" rx="1.88" ry="1.49" fill="#ff8a10"/><ellipse cx="51.50" cy="810.10" rx="1.16" ry="0.91" fill="#ffe21e"/>
<g transform="translate(33.30,772.60) scale(0.950,1.000) translate(-10.5,-8)"><path d="M2.2,9.5 C0.8,6.5 2.0,3.0 5.2,1.6 C8.0,0.3 12.5,0.2 15.5,1.4 C18.6,2.7 19.8,5.6 19.2,8.4 C18.7,10.6 17.0,11.6 15.2,11.6 C14.6,13.0 13.2,13.6 12.0,13.2 L11.6,15.6 L10.0,15.6 L9.6,13.0 C8.6,13.8 6.6,14.6 5.0,13.8 C3.4,13.2 2.6,11.6 2.2,9.5 Z" fill="#dadada" stroke="#7e7e7e" stroke-width="0.75"/><path d="M4,5 C5,3.5 6.5,3 8,3.4 M9,2.2 C10,3.5 10.5,5 10,6.5 M12,2 C13.5,3 14.5,4.5 14,6 M16,3.5 C17.5,5 17.8,6.5 17.2,8 M3.5,8 C4.8,7 6.5,7.2 7.5,8.5 M8.5,7.5 C9.8,8.6 11.5,8.8 12.5,8 M13.5,7.2 C14.8,8.5 16,9.5 17.5,9.2 M5,11 C6.5,10 8,10.5 9,11.8 M11,10.2 C12.5,9.6 14,10.2 14.8,11 M3.2,6.2 C3.8,5.5 5,5.6 5.6,6.4 M6.5,5 C7.5,6 8.6,6.2 9.2,5.6 M11.2,4.2 C11.8,5 12.6,5.4 13.2,5" fill="none" stroke="#8a8a8a" stroke-width="0.7"/></g>
<ellipse cx="28.00" cy="768.10" rx="3.04" ry="2.40" fill="#e5261c"/><ellipse cx="28.00" cy="768.10" rx="1.88" ry="1.49" fill="#ff8a10"/><ellipse cx="28.00" cy="768.10" rx="1.16" ry="0.91" fill="#ffe21e"/>
<g transform="translate(36.80,734.10) scale(-0.950,1.000) translate(-10.5,-8)"><path d="M2.2,9.5 C0.8,6.5 2.0,3.0 5.2,1.6 C8.0,0.3 12.5,0.2 15.5,1.4 C18.6,2.7 19.8,5.6 19.2,8.4 C18.7,10.6 17.0,11.6 15.2,11.6 C14.6,13.0 13.2,13.6 12.0,13.2 L11.6,15.6 L10.0,15.6 L9.6,13.0 C8.6,13.8 6.6,14.6 5.0,13.8 C3.4,13.2 2.6,11.6 2.2,9.5 Z" fill="#dadada" stroke="#7e7e7e" stroke-width="0.75"/><path d="M4,5 C5,3.5 6.5,3 8,3.4 M9,2.2 C10,3.5 10.5,5 10,6.5 M12,2 C13.5,3 14.5,4.5 14,6 M16,3.5 C17.5,5 17.8,6.5 17.2,8 M3.5,8 C4.8,7 6.5,7.2 7.5,8.5 M8.5,7.5 C9.8,8.6 11.5,8.8 12.5,8 M13.5,7.2 C14.8,8.5 16,9.5 17.5,9.2 M5,11 C6.5,10 8,10.5 9,11.8 M11,10.2 C12.5,9.6 14,10.2 14.8,11 M3.2,6.2 C3.8,5.5 5,5.6 5.6,6.4 M6.5,5 C7.5,6 8.6,6.2 9.2,5.6 M11.2,4.2 C11.8,5 12.6,5.4 13.2,5" fill="none" stroke="#8a8a8a" stroke-width="0.7"/></g>
<ellipse cx="36.80" cy="732.30" rx="3.04" ry="2.40" fill="#e5261c"/><ellipse cx="36.80" cy="732.30" rx="1.88" ry="1.49" fill="#ff8a10"/><ellipse cx="36.80" cy="732.30" rx="1.16" ry="0.91" fill="#ffe21e"/>
<g transform="translate(56.80,701.90) scale(0.800,0.938) translate(-10.5,-8)"><path d="M2.2,9.5 C0.8,6.5 2.0,3.0 5.2,1.6 C8.0,0.3 12.5,0.2 15.5,1.4 C18.6,2.7 19.8,5.6 19.2,8.4 C18.7,10.6 17.0,11.6 15.2,11.6 C14.6,13.0 13.2,13.6 12.0,13.2 L11.6,15.6 L10.0,15.6 L9.6,13.0 C8.6,13.8 6.6,14.6 5.0,13.8 C3.4,13.2 2.6,11.6 2.2,9.5 Z" fill="#dadada" stroke="#7e7e7e" stroke-width="0.75"/><path d="M4,5 C5,3.5 6.5,3 8,3.4 M9,2.2 C10,3.5 10.5,5 10,6.5 M12,2 C13.5,3 14.5,4.5 14,6 M16,3.5 C17.5,5 17.8,6.5 17.2,8 M3.5,8 C4.8,7 6.5,7.2 7.5,8.5 M8.5,7.5 C9.8,8.6 11.5,8.8 12.5,8 M13.5,7.2 C14.8,8.5 16,9.5 17.5,9.2 M5,11 C6.5,10 8,10.5 9,11.8 M11,10.2 C12.5,9.6 14,10.2 14.8,11 M3.2,6.2 C3.8,5.5 5,5.6 5.6,6.4 M6.5,5 C7.5,6 8.6,6.2 9.2,5.6 M11.2,4.2 C11.8,5 12.6,5.4 13.2,5" fill="none" stroke="#8a8a8a" stroke-width="0.7"/></g>
<ellipse cx="60.30" cy="699.10" rx="2.56" ry="2.25" fill="#e5261c"/><ellipse cx="60.30" cy="699.10" rx="1.59" ry="1.40" fill="#ff8a10"/><ellipse cx="60.30" cy="699.10" rx="0.97" ry="0.85" fill="#ffe21e"/>
<g transform="translate(85.80,679.80) scale(-0.950,1.000) translate(-10.5,-8)"><path d="M2.2,9.5 C0.8,6.5 2.0,3.0 5.2,1.6 C8.0,0.3 12.5,0.2 15.5,1.4 C18.6,2.7 19.8,5.6 19.2,8.4 C18.7,10.6 17.0,11.6 15.2,11.6 C14.6,13.0 13.2,13.6 12.0,13.2 L11.6,15.6 L10.0,15.6 L9.6,13.0 C8.6,13.8 6.6,14.6 5.0,13.8 C3.4,13.2 2.6,11.6 2.2,9.5 Z" fill="#dadada" stroke="#7e7e7e" stroke-width="0.75"/><path d="M4,5 C5,3.5 6.5,3 8,3.4 M9,2.2 C10,3.5 10.5,5 10,6.5 M12,2 C13.5,3 14.5,4.5 14,6 M16,3.5 C17.5,5 17.8,6.5 17.2,8 M3.5,8 C4.8,7 6.5,7.2 7.5,8.5 M8.5,7.5 C9.8,8.6 11.5,8.8 12.5,8 M13.5,7.2 C14.8,8.5 16,9.5 17.5,9.2 M5,11 C6.5,10 8,10.5 9,11.8 M11,10.2 C12.5,9.6 14,10.2 14.8,11 M3.2,6.2 C3.8,5.5 5,5.6 5.6,6.4 M6.5,5 C7.5,6 8.6,6.2 9.2,5.6 M11.2,4.2 C11.8,5 12.6,5.4 13.2,5" fill="none" stroke="#8a8a8a" stroke-width="0.7"/></g>
<ellipse cx="93.90" cy="678.00" rx="3.04" ry="2.40" fill="#e5261c"/><ellipse cx="93.90" cy="678.00" rx="1.88" ry="1.49" fill="#ff8a10"/><ellipse cx="93.90" cy="678.00" rx="1.16" ry="0.91" fill="#ffe21e"/>
<path d="M350.50,694.70 A70.1,70.1 0 0 1 374.48,698.93 L368.80,714.53 A53.5,53.5 0 0 0 350.50,711.30 Z" fill="#ee949a"/>
<path d="M374.48,698.93 A70.1,70.1 0 0 1 395.56,711.10 L384.89,723.82 A53.5,53.5 0 0 0 368.80,714.53 Z" fill="#ee949a"/>
<path d="M395.56,711.10 A70.1,70.1 0 0 1 411.21,729.75 L396.83,738.05 A53.5,53.5 0 0 0 384.89,723.82 Z" fill="#ee949a"/>
<path d="M411.21,729.75 A70.1,70.1 0 0 1 419.54,752.63 L403.19,755.51 A53.5,53.5 0 0 0 396.83,738.05 Z" fill="#4fb03b"/>
<path d="M419.54,752.63 A70.1,70.1 0 0 1 419.54,776.97 L403.19,774.09 A53.5,53.5 0 0 0 403.19,755.51 Z" fill="#4fb03b"/>
<path d="M419.54,776.97 A70.1,70.1 0 0 1 411.21,799.85 L396.83,791.55 A53.5,53.5 0 0 0 403.19,774.09 Z" fill="#b5e596"/>
<path d="M411.21,799.85 A70.1,70.1 0 0 1 395.56,818.50 L384.89,805.78 A53.5,53.5 0 0 0 396.83,791.55 Z" fill="#b5e596"/>
<path d="M395.56,818.50 A70.1,70.1 0 0 1 374.48,830.67 L368.80,815.07 A53.5,53.5 0 0 0 384.89,805.78 Z" fill="#b5e596"/>
<path d="M374.48,830.67 A70.1,70.1 0 0 1 350.50,834.90 L350.50,818.30 A53.5,53.5 0 0 0 368.80,815.07 Z" fill="#3f7ebe"/>
<path d="M350.50,834.90 A70.1,70.1 0 0 1 326.52,830.67 L332.20,815.07 A53.5,53.5 0 0 0 350.50,818.30 Z" fill="#e2241f"/>
<path d="M326.52,830.67 A70.1,70.1 0 0 1 305.44,818.50 L316.11,805.78 A53.5,53.5 0 0 0 332.20,815.07 Z" fill="#e2241f"/>
<path d="M305.44,818.50 A70.1,70.1 0 0 1 289.79,799.85 L304.17,791.55 A53.5,53.5 0 0 0 316.11,805.78 Z" fill="#e2241f"/>
<path d="M289.79,799.85 A70.1,70.1 0 0 1 281.46,776.97 L297.81,774.09 A53.5,53.5 0 0 0 304.17,791.55 Z" fill="#e2241f"/>
<path d="M281.46,776.97 A70.1,70.1 0 0 1 281.46,752.63 L297.81,755.51 A53.5,53.5 0 0 0 297.81,774.09 Z" fill="#ee949a"/>
<path d="M281.46,752.63 A70.1,70.1 0 0 1 289.79,729.75 L304.17,738.05 A53.5,53.5 0 0 0 297.81,755.51 Z" fill="#ee949a"/>
<path d="M289.79,729.75 A70.1,70.1 0 0 1 305.44,711.10 L316.11,723.82 A53.5,53.5 0 0 0 304.17,738.05 Z" fill="#ee949a"/>
<path d="M305.44,711.10 A70.1,70.1 0 0 1 326.52,698.93 L332.20,714.53 A53.5,53.5 0 0 0 316.11,723.82 Z" fill="#ee949a"/>
<path d="M326.52,698.93 A70.1,70.1 0 0 1 350.50,694.70 L350.50,711.30 A53.5,53.5 0 0 0 332.20,714.53 Z" fill="#ee949a"/>
<line x1="350.50" y1="711.30" x2="350.50" y2="694.70" stroke="#333" stroke-width="0.4" opacity="0.85"/>
<line x1="368.80" y1="714.53" x2="374.48" y2="698.93" stroke="#333" stroke-width="0.4" opacity="0.85"/>
<line x1="384.89" y1="723.82" x2="395.56" y2="711.10" stroke="#333" stroke-width="0.4" opacity="0.85"/>
<line x1="396.83" y1="738.05" x2="411.21" y2="729.75" stroke="#333" stroke-width="0.4" opacity="0.85"/>
<line x1="403.19" y1="755.51" x2="419.54" y2="752.63" stroke="#333" stroke-width="0.4" opacity="0.85"/>
<line x1="403.19" y1="774.09" x2="419.54" y2="776.97" stroke="#333" stroke-width="0.4" opacity="0.85"/>
<line x1="396.83" y1="791.55" x2="411.21" y2="799.85" stroke="#333" stroke-width="0.4" opacity="0.85"/>
<line x1="384.89" y1="805.78" x2="395.56" y2="818.50" stroke="#333" stroke-width="0.4" opacity="0.85"/>
<line x1="368.80" y1="815.07" x2="374.48" y2="830.67" stroke="#333" stroke-width="0.4" opacity="0.85"/>
<line x1="350.50" y1="818.30" x2="350.50" y2="834.90" stroke="#333" stroke-width="0.4" opacity="0.85"/>
<line x1="332.20" y1="815.07" x2="326.52" y2="830.67" stroke="#333" stroke-width="0.4" opacity="0.85"/>
<line x1="316.11" y1="805.78" x2="305.44" y2="818.50" stroke="#333" stroke-width="0.4" opacity="0.85"/>
<line x1="304.17" y1="791.55" x2="289.79" y2="799.85" stroke="#333" stroke-width="0.4" opacity="0.85"/>
<line x1="297.81" y1="774.09" x2="281.46" y2="776.97" stroke="#333" stroke-width="0.4" opacity="0.85"/>
<line x1="297.81" y1="755.51" x2="281.46" y2="752.63" stroke="#333" stroke-width="0.4" opacity="0.85"/>
<line x1="304.17" y1="738.05" x2="289.79" y2="729.75" stroke="#333" stroke-width="0.4" opacity="0.85"/>
<line x1="316.11" y1="723.82" x2="305.44" y2="711.10" stroke="#333" stroke-width="0.4" opacity="0.85"/>
<line x1="332.20" y1="714.53" x2="326.52" y2="698.93" stroke="#333" stroke-width="0.4" opacity="0.85"/>
<text transform="translate(361.23,703.94) rotate(10.0)" font-size="3.0" font-weight="bold" text-anchor="middle" dy="1.0" fill="#1a1a1a">MPFC</text>
<text transform="translate(381.40,711.28) rotate(30.0)" font-size="3.0" font-weight="bold" text-anchor="middle" dy="1.0" fill="#1a1a1a">SFG,aMFG</text>
<text transform="translate(397.84,725.08) rotate(50.0)" font-size="3.0" font-weight="bold" text-anchor="middle" dy="1.0" fill="#1a1a1a">FP</text>
<text transform="translate(408.57,743.66) rotate(70.0)" font-size="3.0" font-weight="bold" text-anchor="middle" dy="1.0" fill="#1a1a1a">FG,aIO</text>
<text transform="translate(412.30,764.80) rotate(-90.0)" font-size="3.0" font-weight="bold" text-anchor="middle" dy="1.0" fill="#1a1a1a">LG</text>
<text transform="translate(408.57,785.94) rotate(-70.0)" font-size="3.0" font-weight="bold" text-anchor="middle" dy="1.0" fill="#1a1a1a">PoG</text>
<text transform="translate(397.84,804.52) rotate(-50.0)" font-size="3.0" font-weight="bold" text-anchor="middle" dy="1.0" fill="#1a1a1a">PreCG</text>
<text transform="translate(381.40,818.32) rotate(-30.0)" font-size="3.0" font-weight="bold" text-anchor="middle" dy="1.0" fill="#1a1a1a">L-preCG</text>
<text transform="translate(361.23,825.66) rotate(-10.0)" font-size="3.0" font-weight="bold" text-anchor="middle" dy="1.0" fill="#1a1a1a">R-STG,MTG</text>
<text transform="translate(339.77,825.66) rotate(10.0)" font-size="3.0" font-weight="bold" text-anchor="middle" dy="1.0" fill="#1a1a1a">PCu,PCC</text>
<text transform="translate(319.60,818.32) rotate(30.0)" font-size="3.0" font-weight="bold" text-anchor="middle" dy="1.0" fill="#1a1a1a">PCC,vmPFC</text>
<text transform="translate(303.16,804.52) rotate(50.0)" font-size="3.0" font-weight="bold" text-anchor="middle" dy="1.0" fill="#1a1a1a">ACC</text>
<text transform="translate(292.43,785.94) rotate(70.0)" font-size="3.0" font-weight="bold" text-anchor="middle" dy="1.0" fill="#1a1a1a">PCC</text>
<text transform="translate(288.70,764.80) rotate(90.0)" font-size="3.0" font-weight="bold" text-anchor="middle" dy="1.0" fill="#1a1a1a">L-PL,INFG</text>
<text transform="translate(292.43,743.66) rotate(290.0)" font-size="3.0" font-weight="bold" text-anchor="middle" dy="1.0" fill="#1a1a1a">R-IPL,SFG</text>
<text transform="translate(303.16,725.08) rotate(310.0)" font-size="3.0" font-weight="bold" text-anchor="middle" dy="1.0" fill="#1a1a1a">R-IPL,SP</text>
<text transform="translate(319.60,711.28) rotate(330.0)" font-size="3.0" font-weight="bold" text-anchor="middle" dy="1.0" fill="#1a1a1a">MCC</text>
<text transform="translate(339.77,703.94) rotate(350.0)" font-size="3.0" font-weight="bold" text-anchor="middle" dy="1.0" fill="#1a1a1a">IFG,aMPFC</text>
<path d="M341.59,714.28 Q350.50,764.80 324.85,720.37" fill="none" stroke="#ea5f48" stroke-width="0.7"/>
<path d="M324.85,720.37 Q350.50,764.80 302.29,747.25" fill="none" stroke="#ea5f48" stroke-width="0.7"/>
<path d="M341.59,714.28 Q350.50,764.80 324.85,809.23" fill="none" stroke="#ea5f48" stroke-width="0.7"/>
<path d="M311.20,731.82 Q350.50,764.80 359.41,815.32" fill="none" stroke="#ea5f48" stroke-width="0.7"/>
<path d="M302.29,747.25 Q350.50,764.80 324.85,809.23" fill="none" stroke="#ea5f48" stroke-width="0.7"/>
<path d="M299.20,764.80 Q350.50,764.80 401.80,764.80" fill="none" stroke="#ea5f48" stroke-width="0.7"/>
<path d="M302.29,782.35 Q350.50,764.80 324.85,720.37" fill="none" stroke="#ea5f48" stroke-width="0.7"/>
<path d="M311.20,797.78 Q350.50,764.80 389.80,731.82" fill="none" stroke="#ea5f48" stroke-width="0.7"/>
<path d="M302.29,782.35 Q350.50,764.80 389.80,731.82" fill="none" stroke="#ea5f48" stroke-width="0.7"/>
<path d="M324.85,809.23 Q350.50,764.80 389.80,731.82" fill="none" stroke="#ea5f48" stroke-width="0.7"/>
<path d="M311.20,797.78 Q350.50,764.80 398.71,747.25" fill="none" stroke="#ea5f48" stroke-width="0.7"/>
<path d="M302.29,782.35 Q350.50,764.80 398.71,747.25" fill="none" stroke="#ea5f48" stroke-width="0.7"/>
<path d="M324.85,809.23 Q350.50,764.80 376.15,720.37" fill="none" stroke="#ea5f48" stroke-width="0.7"/>
<path d="M341.59,815.32 Q350.50,764.80 398.71,782.35" fill="none" stroke="#ea5f48" stroke-width="0.7"/>
<path d="M359.41,714.28 Q350.50,764.80 389.80,797.78" fill="none" stroke="#ea5f48" stroke-width="0.7"/>
<path d="M376.15,720.37 Q350.50,764.80 398.71,782.35" fill="none" stroke="#ea5f48" stroke-width="0.7"/>
<path d="M359.41,815.32 Q350.50,764.80 376.15,809.23" fill="none" stroke="#ea5f48" stroke-width="0.7"/>
<path d="M299.20,764.80 Q350.50,764.80 359.41,714.28" fill="none" stroke="#ea5f48" stroke-width="0.7"/>
<path d="M302.29,747.25 Q350.50,764.80 341.59,815.32" fill="none" stroke="#ea5f48" stroke-width="0.7"/>
<path d="M311.20,797.78 Q350.50,764.80 401.80,764.80" fill="none" stroke="#ea5f48" stroke-width="0.7"/>
<path id="g350_0" d="M365.84,836.99 A73.8,73.8 0 1 1 389.61,827.39" fill="none"/>
<text font-size="9.7" font-weight="bold" fill="#111"><textPath href="#g350_0" startOffset="50%" text-anchor="middle">Cognitive control</textPath></text>
<path id="g350_1" d="M276.70,764.80 A73.8,73.8 0 1 1 281.15,790.04" fill="none"/>
<text font-size="9.7" font-weight="bold" fill="#111"><textPath href="#g350_1" startOffset="50%" text-anchor="middle">Visual</textPath></text>
<path id="g350_2" d="M305.06,706.64 A73.8,73.8 0 1 1 287.91,725.69" fill="none"/>
<text font-size="9.7" font-weight="bold" fill="#111"><textPath href="#g350_2" startOffset="50%" text-anchor="middle">Sensorimotor</textPath></text>
<path id="g350_3" d="M358.21,691.40 A73.8,73.8 0 1 1 332.65,693.19" fill="none"/>
<text font-size="9.7" font-weight="bold" fill="#111"><textPath href="#g350_3" startOffset="50%" text-anchor="middle">Temporal</textPath></text>
<path id="g350_4" d="M412.04,724.07 A73.8,73.8 0 1 1 394.40,705.48" fill="none"/>
<text font-size="9.7" font-weight="bold" fill="#111"><textPath href="#g350_4" startOffset="50%" text-anchor="middle">Default mode</textPath></text>
<g transform="translate(366.90,672.80) scale(0.800,0.875) translate(-10.5,-8)"><path d="M2.2,9.5 C0.8,6.5 2.0,3.0 5.2,1.6 C8.0,0.3 12.5,0.2 15.5,1.4 C18.6,2.7 19.8,5.6 19.2,8.4 C18.7,10.6 17.0,11.6 15.2,11.6 C14.6,13.0 13.2,13.6 12.0,13.2 L11.6,15.6 L10.0,15.6 L9.6,13.0 C8.6,13.8 6.6,14.6 5.0,13.8 C3.4,13.2 2.6,11.6 2.2,9.5 Z" fill="#dadada" stroke="#7e7e7e" stroke-width="0.75"/><path d="M4,5 C5,3.5 6.5,3 8,3.4 M9,2.2 C10,3.5 10.5,5 10,6.5 M12,2 C13.5,3 14.5,4.5 14,6 M16,3.5 C17.5,5 17.8,6.5 17.2,8 M3.5,8 C4.8,7 6.5,7.2 7.5,8.5 M8.5,7.5 C9.8,8.6 11.5,8.8 12.5,8 M13.5,7.2 C14.8,8.5 16,9.5 17.5,9.2 M5,11 C6.5,10 8,10.5 9,11.8 M11,10.2 C12.5,9.6 14,10.2 14.8,11 M3.2,6.2 C3.8,5.5 5,5.6 5.6,6.4 M6.5,5 C7.5,6 8.6,6.2 9.2,5.6 M11.2,4.2 C11.8,5 12.6,5.4 13.2,5" fill="none" stroke="#8a8a8a" stroke-width="0.7"/></g>
<ellipse cx="373.20" cy="672.80" rx="2.56" ry="2.10" fill="#e5261c"/><ellipse cx="373.20" cy="672.80" rx="1.59" ry="1.30" fill="#ff8a10"/><ellipse cx="373.20" cy="672.80" rx="0.97" ry="0.80" fill="#ffe21e"/>
<g transform="translate(396.00,685.00) scale(-0.800,0.812) translate(-10.5,-8)"><path d="M2.2,9.5 C0.8,6.5 2.0,3.0 5.2,1.6 C8.0,0.3 12.5,0.2 15.5,1.4 C18.6,2.7 19.8,5.6 19.2,8.4 C18.7,10.6 17.0,11.6 15.2,11.6 C14.6,13.0 13.2,13.6 12.0,13.2 L11.6,15.6 L10.0,15.6 L9.6,13.0 C8.6,13.8 6.6,14.6 5.0,13.8 C3.4,13.2 2.6,11.6 2.2,9.5 Z" fill="#dadada" stroke="#7e7e7e" stroke-width="0.75"/><path d="M4,5 C5,3.5 6.5,3 8,3.4 M9,2.2 C10,3.5 10.5,5 10,6.5 M12,2 C13.5,3 14.5,4.5 14,6 M16,3.5 C17.5,5 17.8,6.5 17.2,8 M3.5,8 C4.8,7 6.5,7.2 7.5,8.5 M8.5,7.5 C9.8,8.6 11.5,8.8 12.5,8 M13.5,7.2 C14.8,8.5 16,9.5 17.5,9.2 M5,11 C6.5,10 8,10.5 9,11.8 M11,10.2 C12.5,9.6 14,10.2 14.8,11 M3.2,6.2 C3.8,5.5 5,5.6 5.6,6.4 M6.5,5 C7.5,6 8.6,6.2 9.2,5.6 M11.2,4.2 C11.8,5 12.6,5.4 13.2,5" fill="none" stroke="#8a8a8a" stroke-width="0.7"/></g>
<ellipse cx="402.00" cy="682.20" rx="2.56" ry="1.95" fill="#e5261c"/><ellipse cx="402.00" cy="682.20" rx="1.59" ry="1.21" fill="#ff8a10"/><ellipse cx="402.00" cy="682.20" rx="0.97" ry="0.74" fill="#ffe21e"/>
<g transform="translate(421.20,706.00) scale(0.800,0.812) translate(-10.5,-8)"><path d="M2.2,9.5 C0.8,6.5 2.0,3.0 5.2,1.6 C8.0,0.3 12.5,0.2 15.5,1.4 C18.6,2.7 19.8,5.6 19.2,8.4 C18.7,10.6 17.0,11.6 15.2,11.6 C14.6,13.0 13.2,13.6 12.0,13.2 L11.6,15.6 L10.0,15.6 L9.6,13.0 C8.6,13.8 6.6,14.6 5.0,13.8 C3.4,13.2 2.6,11.6 2.2,9.5 Z" fill="#dadada" stroke="#7e7e7e" stroke-width="0.75"/><path d="M4,5 C5,3.5 6.5,3 8,3.4 M9,2.2 C10,3.5 10.5,5 10,6.5 M12,2 C13.5,3 14.5,4.5 14,6 M16,3.5 C17.5,5 17.8,6.5 17.2,8 M3.5,8 C4.8,7 6.5,7.2 7.5,8.5 M8.5,7.5 C9.8,8.6 11.5,8.8 12.5,8 M13.5,7.2 C14.8,8.5 16,9.5 17.5,9.2 M5,11 C6.5,10 8,10.5 9,11.8 M11,10.2 C12.5,9.6 14,10.2 14.8,11 M3.2,6.2 C3.8,5.5 5,5.6 5.6,6.4 M6.5,5 C7.5,6 8.6,6.2 9.2,5.6 M11.2,4.2 C11.8,5 12.6,5.4 13.2,5" fill="none" stroke="#8a8a8a" stroke-width="0.7"/></g>
<ellipse cx="428.20" cy="706.80" rx="2.56" ry="1.95" fill="#e5261c"/><ellipse cx="428.20" cy="706.80" rx="1.59" ry="1.21" fill="#ff8a10"/><ellipse cx="428.20" cy="706.80" rx="0.97" ry="0.74" fill="#ffe21e"/>
<g transform="translate(437.00,734.10) scale(-0.800,0.812) translate(-10.5,-8)"><path d="M2.2,9.5 C0.8,6.5 2.0,3.0 5.2,1.6 C8.0,0.3 12.5,0.2 15.5,1.4 C18.6,2.7 19.8,5.6 19.2,8.4 C18.7,10.6 17.0,11.6 15.2,11.6 C14.6,13.0 13.2,13.6 12.0,13.2 L11.6,15.6 L10.0,15.6 L9.6,13.0 C8.6,13.8 6.6,14.6 5.0,13.8 C3.4,13.2 2.6,11.6 2.2,9.5 Z" fill="#dadada" stroke="#7e7e7e" stroke-width="0.75"/><path d="M4,5 C5,3.5 6.5,3 8,3.4 M9,2.2 C10,3.5 10.5,5 10,6.5 M12,2 C13.5,3 14.5,4.5 14,6 M16,3.5 C17.5,5 17.8,6.5 17.2,8 M3.5,8 C4.8,7 6.5,7.2 7.5,8.5 M8.5,7.5 C9.8,8.6 11.5,8.8 12.5,8 M13.5,7.2 C14.8,8.5 16,9.5 17.5,9.2 M5,11 C6.5,10 8,10.5 9,11.8 M11,10.2 C12.5,9.6 14,10.2 14.8,11 M3.2,6.2 C3.8,5.5 5,5.6 5.6,6.4 M6.5,5 C7.5,6 8.6,6.2 9.2,5.6 M11.2,4.2 C11.8,5 12.6,5.4 13.2,5" fill="none" stroke="#8a8a8a" stroke-width="0.7"/></g>
<ellipse cx="433.50" cy="735.80" rx="2.56" ry="1.95" fill="#e5261c"/><ellipse cx="433.50" cy="735.80" rx="1.59" ry="1.21" fill="#ff8a10"/><ellipse cx="433.50" cy="735.80" rx="0.97" ry="0.74" fill="#ffe21e"/>
<g transform="translate(442.20,765.00) scale(0.800,0.875) translate(-10.5,-8)"><path d="M2.2,9.5 C0.8,6.5 2.0,3.0 5.2,1.6 C8.0,0.3 12.5,0.2 15.5,1.4 C18.6,2.7 19.8,5.6 19.2,8.4 C18.7,10.6 17.0,11.6 15.2,11.6 C14.6,13.0 13.2,13.6 12.0,13.2 L11.6,15.6 L10.0,15.6 L9.6,13.0 C8.6,13.8 6.6,14.6 5.0,13.8 C3.4,13.2 2.6,11.6 2.2,9.5 Z" fill="#dadada" stroke="#7e7e7e" stroke-width="0.75"/><path d="M4,5 C5,3.5 6.5,3 8,3.4 M9,2.2 C10,3.5 10.5,5 10,6.5 M12,2 C13.5,3 14.5,4.5 14,6 M16,3.5 C17.5,5 17.8,6.5 17.2,8 M3.5,8 C4.8,7 6.5,7.2 7.5,8.5 M8.5,7.5 C9.8,8.6 11.5,8.8 12.5,8 M13.5,7.2 C14.8,8.5 16,9.5 17.5,9.2 M5,11 C6.5,10 8,10.5 9,11.8 M11,10.2 C12.5,9.6 14,10.2 14.8,11 M3.2,6.2 C3.8,5.5 5,5.6 5.6,6.4 M6.5,5 C7.5,6 8.6,6.2 9.2,5.6 M11.2,4.2 C11.8,5 12.6,5.4 13.2,5" fill="none" stroke="#8a8a8a" stroke-width="0.7"/></g>
<ellipse cx="438.00" cy="765.60" rx="2.56" ry="2.10" fill="#e5261c"/><ellipse cx="438.00" cy="765.60" rx="1.59" ry="1.30" fill="#ff8a10"/><ellipse cx="438.00" cy="765.60" rx="0.97" ry="0.80" fill="#ffe21e"/>
<g transform="translate(437.00,796.50) scale(-0.800,0.875) translate(-10.5,-8)"><path d="M2.2,9.5 C0.8,6.5 2.0,3.0 5.2,1.6 C8.0,0.3 12.5,0.2 15.5,1.4 C18.6,2.7 19.8,5.6 19.2,8.4 C18.7,10.6 17.0,11.6 15.2,11.6 C14.6,13.0 13.2,13.6 12.0,13.2 L11.6,15.6 L10.0,15.6 L9.6,13.0 C8.6,13.8 6.6,14.6 5.0,13.8 C3.4,13.2 2.6,11.6 2.2,9.5 Z" fill="#dadada" stroke="#7e7e7e" stroke-width="0.75"/><path d="M4,5 C5,3.5 6.5,3 8,3.4 M9,2.2 C10,3.5 10.5,5 10,6.5 M12,2 C13.5,3 14.5,4.5 14,6 M16,3.5 C17.5,5 17.8,6.5 17.2,8 M3.5,8 C4.8,7 6.5,7.2 7.5,8.5 M8.5,7.5 C9.8,8.6 11.5,8.8 12.5,8 M13.5,7.2 C14.8,8.5 16,9.5 17.5,9.2 M5,11 C6.5,10 8,10.5 9,11.8 M11,10.2 C12.5,9.6 14,10.2 14.8,11 M3.2,6.2 C3.8,5.5 5,5.6 5.6,6.4 M6.5,5 C7.5,6 8.6,6.2 9.2,5.6 M11.2,4.2 C11.8,5 12.6,5.4 13.2,5" fill="none" stroke="#8a8a8a" stroke-width="0.7"/></g>
<ellipse cx="432.40" cy="793.00" rx="2.56" ry="2.10" fill="#e5261c"/><ellipse cx="432.40" cy="793.00" rx="1.59" ry="1.30" fill="#ff8a10"/><ellipse cx="432.40" cy="793.00" rx="0.97" ry="0.80" fill="#ffe21e"/>
<g transform="translate(421.20,823.40) scale(0.550,0.688) translate(-10.5,-8)"><path d="M2.2,9.5 C0.8,6.5 2.0,3.0 5.2,1.6 C8.0,0.3 12.5,0.2 15.5,1.4 C18.6,2.7 19.8,5.6 19.2,8.4 C18.7,10.6 17.0,11.6 15.2,11.6 C14.6,13.0 13.2,13.6 12.0,13.2 L11.6,15.6 L10.0,15.6 L9.6,13.0 C8.6,13.8 6.6,14.6 5.0,13.8 C3.4,13.2 2.6,11.6 2.2,9.5 Z" fill="#dadada" stroke="#7e7e7e" stroke-width="0.75"/><path d="M4,5 C5,3.5 6.5,3 8,3.4 M9,2.2 C10,3.5 10.5,5 10,6.5 M12,2 C13.5,3 14.5,4.5 14,6 M16,3.5 C17.5,5 17.8,6.5 17.2,8 M3.5,8 C4.8,7 6.5,7.2 7.5,8.5 M8.5,7.5 C9.8,8.6 11.5,8.8 12.5,8 M13.5,7.2 C14.8,8.5 16,9.5 17.5,9.2 M5,11 C6.5,10 8,10.5 9,11.8 M11,10.2 C12.5,9.6 14,10.2 14.8,11 M3.2,6.2 C3.8,5.5 5,5.6 5.6,6.4 M6.5,5 C7.5,6 8.6,6.2 9.2,5.6 M11.2,4.2 C11.8,5 12.6,5.4 13.2,5" fill="none" stroke="#8a8a8a" stroke-width="0.7"/></g>
<ellipse cx="421.20" cy="821.60" rx="2.00" ry="1.70" fill="#e5261c"/><ellipse cx="421.20" cy="821.60" rx="1.24" ry="1.05" fill="#ff8a10"/><ellipse cx="421.20" cy="821.60" rx="0.76" ry="0.65" fill="#ffe21e"/>
<g transform="translate(396.70,844.50) scale(-0.700,0.750) translate(-10.5,-8)"><path d="M2.2,9.5 C0.8,6.5 2.0,3.0 5.2,1.6 C8.0,0.3 12.5,0.2 15.5,1.4 C18.6,2.7 19.8,5.6 19.2,8.4 C18.7,10.6 17.0,11.6 15.2,11.6 C14.6,13.0 13.2,13.6 12.0,13.2 L11.6,15.6 L10.0,15.6 L9.6,13.0 C8.6,13.8 6.6,14.6 5.0,13.8 C3.4,13.2 2.6,11.6 2.2,9.5 Z" fill="#dadada" stroke="#7e7e7e" stroke-width="0.75"/><path d="M4,5 C5,3.5 6.5,3 8,3.4 M9,2.2 C10,3.5 10.5,5 10,6.5 M12,2 C13.5,3 14.5,4.5 14,6 M16,3.5 C17.5,5 17.8,6.5 17.2,8 M3.5,8 C4.8,7 6.5,7.2 7.5,8.5 M8.5,7.5 C9.8,8.6 11.5,8.8 12.5,8 M13.5,7.2 C14.8,8.5 16,9.5 17.5,9.2 M5,11 C6.5,10 8,10.5 9,11.8 M11,10.2 C12.5,9.6 14,10.2 14.8,11 M3.2,6.2 C3.8,5.5 5,5.6 5.6,6.4 M6.5,5 C7.5,6 8.6,6.2 9.2,5.6 M11.2,4.2 C11.8,5 12.6,5.4 13.2,5" fill="none" stroke="#8a8a8a" stroke-width="0.7"/></g>
<ellipse cx="393.90" cy="841.00" rx="2.24" ry="1.80" fill="#e5261c"/><ellipse cx="393.90" cy="841.00" rx="1.39" ry="1.12" fill="#ff8a10"/><ellipse cx="393.90" cy="841.00" rx="0.85" ry="0.68" fill="#ffe21e"/>
<g transform="translate(366.90,856.70) scale(0.600,0.688) translate(-10.5,-8)"><path d="M2.2,9.5 C0.8,6.5 2.0,3.0 5.2,1.6 C8.0,0.3 12.5,0.2 15.5,1.4 C18.6,2.7 19.8,5.6 19.2,8.4 C18.7,10.6 17.0,11.6 15.2,11.6 C14.6,13.0 13.2,13.6 12.0,13.2 L11.6,15.6 L10.0,15.6 L9.6,13.0 C8.6,13.8 6.6,14.6 5.0,13.8 C3.4,13.2 2.6,11.6 2.2,9.5 Z" fill="#dadada" stroke="#7e7e7e" stroke-width="0.75"/><path d="M4,5 C5,3.5 6.5,3 8,3.4 M9,2.2 C10,3.5 10.5,5 10,6.5 M12,2 C13.5,3 14.5,4.5 14,6 M16,3.5 C17.5,5 17.8,6.5 17.2,8 M3.5,8 C4.8,7 6.5,7.2 7.5,8.5 M8.5,7.5 C9.8,8.6 11.5,8.8 12.5,8 M13.5,7.2 C14.8,8.5 16,9.5 17.5,9.2 M5,11 C6.5,10 8,10.5 9,11.8 M11,10.2 C12.5,9.6 14,10.2 14.8,11 M3.2,6.2 C3.8,5.5 5,5.6 5.6,6.4 M6.5,5 C7.5,6 8.6,6.2 9.2,5.6 M11.2,4.2 C11.8,5 12.6,5.4 13.2,5" fill="none" stroke="#8a8a8a" stroke-width="0.7"/></g>
<ellipse cx="364.40" cy="855.00" rx="2.00" ry="1.70" fill="#e5261c"/><ellipse cx="364.40" cy="855.00" rx="1.24" ry="1.05" fill="#ff8a10"/><ellipse cx="364.40" cy="855.00" rx="0.76" ry="0.65" fill="#ffe21e"/>
<g transform="translate(335.40,856.70) scale(-0.875,0.875) translate(-10.5,-8)"><path d="M2.2,9.5 C0.8,6.5 2.0,3.0 5.2,1.6 C8.0,0.3 12.5,0.2 15.5,1.4 C18.6,2.7 19.8,5.6 19.2,8.4 C18.7,10.6 17.0,11.6 15.2,11.6 C14.6,13.0 13.2,13.6 12.0,13.2 L11.6,15.6 L10.0,15.6 L9.6,13.0 C8.6,13.8 6.6,14.6 5.0,13.8 C3.4,13.2 2.6,11.6 2.2,9.5 Z" fill="#dadada" stroke="#7e7e7e" stroke-width="0.75"/><path d="M4,5 C5,3.5 6.5,3 8,3.4 M9,2.2 C10,3.5 10.5,5 10,6.5 M12,2 C13.5,3 14.5,4.5 14,6 M16,3.5 C17.5,5 17.8,6.5 17.2,8 M3.5,8 C4.8,7 6.5,7.2 7.5,8.5 M8.5,7.5 C9.8,8.6 11.5,8.8 12.5,8 M13.5,7.2 C14.8,8.5 16,9.5 17.5,9.2 M5,11 C6.5,10 8,10.5 9,11.8 M11,10.2 C12.5,9.6 14,10.2 14.8,11 M3.2,6.2 C3.8,5.5 5,5.6 5.6,6.4 M6.5,5 C7.5,6 8.6,6.2 9.2,5.6 M11.2,4.2 C11.8,5 12.6,5.4 13.2,5" fill="none" stroke="#8a8a8a" stroke-width="0.7"/></g>
<ellipse cx="331.90" cy="853.20" rx="2.80" ry="2.10" fill="#e5261c"/><ellipse cx="331.90" cy="853.20" rx="1.74" ry="1.30" fill="#ff8a10"/><ellipse cx="331.90" cy="853.20" rx="1.06" ry="0.80" fill="#ffe21e"/>
<g transform="translate(305.60,844.50) scale(0.800,0.875) translate(-10.5,-8)"><path d="M2.2,9.5 C0.8,6.5 2.0,3.0 5.2,1.6 C8.0,0.3 12.5,0.2 15.5,1.4 C18.6,2.7 19.8,5.6 19.2,8.4 C18.7,10.6 17.0,11.6 15.2,11.6 C14.6,13.0 13.2,13.6 12.0,13.2 L11.6,15.6 L10.0,15.6 L9.6,13.0 C8.6,13.8 6.6,14.6 5.0,13.8 C3.4,13.2 2.6,11.6 2.2,9.5 Z" fill="#dadada" stroke="#7e7e7e" stroke-width="0.75"/><path d="M4,5 C5,3.5 6.5,3 8,3.4 M9,2.2 C10,3.5 10.5,5 10,6.5 M12,2 C13.5,3 14.5,4.5 14,6 M16,3.5 C17.5,5 17.8,6.5 17.2,8 M3.5,8 C4.8,7 6.5,7.2 7.5,8.5 M8.5,7.5 C9.8,8.6 11.5,8.8 12.5,8 M13.5,7.2 C14.8,8.5 16,9.5 17.5,9.2 M5,11 C6.5,10 8,10.5 9,11.8 M11,10.2 C12.5,9.6 14,10.2 14.8,11 M3.2,6.2 C3.8,5.5 5,5.6 5.6,6.4 M6.5,5 C7.5,6 8.6,6.2 9.2,5.6 M11.2,4.2 C11.8,5 12.6,5.4 13.2,5" fill="none" stroke="#8a8a8a" stroke-width="0.7"/></g>
<ellipse cx="310.80" cy="844.50" rx="2.56" ry="2.10" fill="#e5261c"/><ellipse cx="310.80" cy="844.50" rx="1.59" ry="1.30" fill="#ff8a10"/><ellipse cx="310.80" cy="844.50" rx="0.97" ry="0.80" fill="#ffe21e"/>
<g transform="translate(281.00,823.40) scale(-0.800,0.875) translate(-10.5,-8)"><path d="M2.2,9.5 C0.8,6.5 2.0,3.0 5.2,1.6 C8.0,0.3 12.5,0.2 15.5,1.4 C18.6,2.7 19.8,5.6 19.2,8.4 C18.7,10.6 17.0,11.6 15.2,11.6 C14.6,13.0 13.2,13.6 12.0,13.2 L11.6,15.6 L10.0,15.6 L9.6,13.0 C8.6,13.8 6.6,14.6 5.0,13.8 C3.4,13.2 2.6,11.6 2.2,9.5 Z" fill="#dadada" stroke="#7e7e7e" stroke-width="0.75"/><path d="M4,5 C5,3.5 6.5,3 8,3.4 M9,2.2 C10,3.5 10.5,5 10,6.5 M12,2 C13.5,3 14.5,4.5 14,6 M16,3.5 C17.5,5 17.8,6.5 17.2,8 M3.5,8 C4.8,7 6.5,7.2 7.5,8.5 M8.5,7.5 C9.8,8.6 11.5,8.8 12.5,8 M13.5,7.2 C14.8,8.5 16,9.5 17.5,9.2 M5,11 C6.5,10 8,10.5 9,11.8 M11,10.2 C12.5,9.6 14,10.2 14.8,11 M3.2,6.2 C3.8,5.5 5,5.6 5.6,6.4 M6.5,5 C7.5,6 8.6,6.2 9.2,5.6 M11.2,4.2 C11.8,5 12.6,5.4 13.2,5" fill="none" stroke="#8a8a8a" stroke-width="0.7"/></g>
<ellipse cx="285.30" cy="825.20" rx="2.56" ry="2.10" fill="#e5261c"/><ellipse cx="285.30" cy="825.20" rx="1.59" ry="1.30" fill="#ff8a10"/><ellipse cx="285.30" cy="825.20" rx="0.97" ry="0.80" fill="#ffe21e"/>
<g transform="translate(265.30,795.40) scale(0.875,0.875) translate(-10.5,-8)"><path d="M2.2,9.5 C0.8,6.5 2.0,3.0 5.2,1.6 C8.0,0.3 12.5,0.2 15.5,1.4 C18.6,2.7 19.8,5.6 19.2,8.4 C18.7,10.6 17.0,11.6 15.2,11.6 C14.6,13.0 13.2,13.6 12.0,13.2 L11.6,15.6 L10.0,15.6 L9.6,13.0 C8.6,13.8 6.6,14.6 5.0,13.8 C3.4,13.2 2.6,11.6 2.2,9.5 Z" fill="#dadada" stroke="#7e7e7e" stroke-width="0.75"/><path d="M4,5 C5,3.5 6.5,3 8,3.4 M9,2.2 C10,3.5 10.5,5 10,6.5 M12,2 C13.5,3 14.5,4.5 14,6 M16,3.5 C17.5,5 17.8,6.5 17.2,8 M3.5,8 C4.8,7 6.5,7.2 7.5,8.5 M8.5,7.5 C9.8,8.6 11.5,8.8 12.5,8 M13.5,7.2 C14.8,8.5 16,9.5 17.5,9.2 M5,11 C6.5,10 8,10.5 9,11.8 M11,10.2 C12.5,9.6 14,10.2 14.8,11 M3.2,6.2 C3.8,5.5 5,5.6 5.6,6.4 M6.5,5 C7.5,6 8.6,6.2 9.2,5.6 M11.2,4.2 C11.8,5 12.6,5.4 13.2,5" fill="none" stroke="#8a8a8a" stroke-width="0.7"/></g>
<ellipse cx="268.80" cy="798.90" rx="2.80" ry="2.10" fill="#e5261c"/><ellipse cx="268.80" cy="798.90" rx="1.74" ry="1.30" fill="#ff8a10"/><ellipse cx="268.80" cy="798.90" rx="1.06" ry="0.80" fill="#ffe21e"/>
<g transform="translate(258.30,765.60) scale(-0.800,0.875) translate(-10.5,-8)"><path d="M2.2,9.5 C0.8,6.5 2.0,3.0 5.2,1.6 C8.0,0.3 12.5,0.2 15.5,1.4 C18.6,2.7 19.8,5.6 19.2,8.4 C18.7,10.6 17.0,11.6 15.2,11.6 C14.6,13.0 13.2,13.6 12.0,13.2 L11.6,15.6 L10.0,15.6 L9.6,13.0 C8.6,13.8 6.6,14.6 5.0,13.8 C3.4,13.2 2.6,11.6 2.2,9.5 Z" fill="#dadada" stroke="#7e7e7e" stroke-width="0.75"/><path d="M4,5 C5,3.5 6.5,3 8,3.4 M9,2.2 C10,3.5 10.5,5 10,6.5 M12,2 C13.5,3 14.5,4.5 14,6 M16,3.5 C17.5,5 17.8,6.5 17.2,8 M3.5,8 C4.8,7 6.5,7.2 7.5,8.5 M8.5,7.5 C9.8,8.6 11.5,8.8 12.5,8 M13.5,7.2 C14.8,8.5 16,9.5 17.5,9.2 M5,11 C6.5,10 8,10.5 9,11.8 M11,10.2 C12.5,9.6 14,10.2 14.8,11 M3.2,6.2 C3.8,5.5 5,5.6 5.6,6.4 M6.5,5 C7.5,6 8.6,6.2 9.2,5.6 M11.2,4.2 C11.8,5 12.6,5.4 13.2,5" fill="none" stroke="#8a8a8a" stroke-width="0.7"/></g>
<ellipse cx="254.80" cy="762.80" rx="2.56" ry="2.10" fill="#e5261c"/><ellipse cx="254.80" cy="762.80" rx="1.59" ry="1.30" fill="#ff8a10"/><ellipse cx="254.80" cy="762.80" rx="0.97" ry="0.80" fill="#ffe21e"/>
<g transform="translate(263.50,734.10) scale(0.700,0.812) translate(-10.5,-8)"><path d="M2.2,9.5 C0.8,6.5 2.0,3.0 5.2,1.6 C8.0,0.3 12.5,0.2 15.5,1.4 C18.6,2.7 19.8,5.6 19.2,8.4 C18.7,10.6 17.0,11.6 15.2,11.6 C14.6,13.0 13.2,13.6 12.0,13.2 L11.6,15.6 L10.0,15.6 L9.6,13.0 C8.6,13.8 6.6,14.6 5.0,13.8 C3.4,13.2 2.6,11.6 2.2,9.5 Z" fill="#dadada" stroke="#7e7e7e" stroke-width="0.75"/><path d="M4,5 C5,3.5 6.5,3 8,3.4 M9,2.2 C10,3.5 10.5,5 10,6.5 M12,2 C13.5,3 14.5,4.5 14,6 M16,3.5 C17.5,5 17.8,6.5 17.2,8 M3.5,8 C4.8,7 6.5,7.2 7.5,8.5 M8.5,7.5 C9.8,8.6 11.5,8.8 12.5,8 M13.5,7.2 C14.8,8.5 16,9.5 17.5,9.2 M5,11 C6.5,10 8,10.5 9,11.8 M11,10.2 C12.5,9.6 14,10.2 14.8,11 M3.2,6.2 C3.8,5.5 5,5.6 5.6,6.4 M6.5,5 C7.5,6 8.6,6.2 9.2,5.6 M11.2,4.2 C11.8,5 12.6,5.4 13.2,5" fill="none" stroke="#8a8a8a" stroke-width="0.7"/></g>
<ellipse cx="268.10" cy="734.10" rx="2.24" ry="1.95" fill="#e5261c"/><ellipse cx="268.10" cy="734.10" rx="1.39" ry="1.21" fill="#ff8a10"/><ellipse cx="268.10" cy="734.10" rx="0.85" ry="0.74" fill="#ffe21e"/>
<g transform="translate(279.30,706.00) scale(-0.700,0.812) translate(-10.5,-8)"><path d="M2.2,9.5 C0.8,6.5 2.0,3.0 5.2,1.6 C8.0,0.3 12.5,0.2 15.5,1.4 C18.6,2.7 19.8,5.6 19.2,8.4 C18.7,10.6 17.0,11.6 15.2,11.6 C14.6,13.0 13.2,13.6 12.0,13.2 L11.6,15.6 L10.0,15.6 L9.6,13.0 C8.6,13.8 6.6,14.6 5.0,13.8 C3.4,13.2 2.6,11.6 2.2,9.5 Z" fill="#dadada" stroke="#7e7e7e" stroke-width="0.75"/><path d="M4,5 C5,3.5 6.5,3 8,3.4 M9,2.2 C10,3.5 10.5,5 10,6.5 M12,2 C13.5,3 14.5,4.5 14,6 M16,3.5 C17.5,5 17.8,6.5 17.2,8 M3.5,8 C4.8,7 6.5,7.2 7.5,8.5 M8.5,7.5 C9.8,8.6 11.5,8.8 12.5,8 M13.5,7.2 C14.8,8.5 16,9.5 17.5,9.2 M5,11 C6.5,10 8,10.5 9,11.8 M11,10.2 C12.5,9.6 14,10.2 14.8,11 M3.2,6.2 C3.8,5.5 5,5.6 5.6,6.4 M6.5,5 C7.5,6 8.6,6.2 9.2,5.6 M11.2,4.2 C11.8,5 12.6,5.4 13.2,5" fill="none" stroke="#8a8a8a" stroke-width="0.7"/></g>
<ellipse cx="285.30" cy="706.00" rx="2.24" ry="1.95" fill="#e5261c"/><ellipse cx="285.30" cy="706.00" rx="1.39" ry="1.21" fill="#ff8a10"/><ellipse cx="285.30" cy="706.00" rx="0.85" ry="0.74" fill="#ffe21e"/>
<g transform="translate(303.80,685.00) scale(0.800,0.875) translate(-10.5,-8)"><path d="M2.2,9.5 C0.8,6.5 2.0,3.0 5.2,1.6 C8.0,0.3 12.5,0.2 15.5,1.4 C18.6,2.7 19.8,5.6 19.2,8.4 C18.7,10.6 17.0,11.6 15.2,11.6 C14.6,13.0 13.2,13.6 12.0,13.2 L11.6,15.6 L10.0,15.6 L9.6,13.0 C8.6,13.8 6.6,14.6 5.0,13.8 C3.4,13.2 2.6,11.6 2.2,9.5 Z" fill="#dadada" stroke="#7e7e7e" stroke-width="0.75"/><path d="M4,5 C5,3.5 6.5,3 8,3.4 M9,2.2 C10,3.5 10.5,5 10,6.5 M12,2 C13.5,3 14.5,4.5 14,6 M16,3.5 C17.5,5 17.8,6.5 17.2,8 M3.5,8 C4.8,7 6.5,7.2 7.5,8.5 M8.5,7.5 C9.8,8.6 11.5,8.8 12.5,8 M13.5,7.2 C14.8,8.5 16,9.5 17.5,9.2 M5,11 C6.5,10 8,10.5 9,11.8 M11,10.2 C12.5,9.6 14,10.2 14.8,11 M3.2,6.2 C3.8,5.5 5,5.6 5.6,6.4 M6.5,5 C7.5,6 8.6,6.2 9.2,5.6 M11.2,4.2 C11.8,5 12.6,5.4 13.2,5" fill="none" stroke="#8a8a8a" stroke-width="0.7"/></g>
<ellipse cx="302.00" cy="683.30" rx="2.56" ry="2.10" fill="#e5261c"/><ellipse cx="302.00" cy="683.30" rx="1.59" ry="1.30" fill="#ff8a10"/><ellipse cx="302.00" cy="683.30" rx="0.97" ry="0.80" fill="#ffe21e"/>
<g transform="translate(335.40,673.80) scale(-0.700,0.812) translate(-10.5,-8)"><path d="M2.2,9.5 C0.8,6.5 2.0,3.0 5.2,1.6 C8.0,0.3 12.5,0.2 15.5,1.4 C18.6,2.7 19.8,5.6 19.2,8.4 C18.7,10.6 17.0,11.6 15.2,11.6 C14.6,13.0 13.2,13.6 12.0,13.2 L11.6,15.6 L10.0,15.6 L9.6,13.0 C8.6,13.8 6.6,14.6 5.0,13.8 C3.4,13.2 2.6,11.6 2.2,9.5 Z" fill="#dadada" stroke="#7e7e7e" stroke-width="0.75"/><path d="M4,5 C5,3.5 6.5,3 8,3.4 M9,2.2 C10,3.5 10.5,5 10,6.5 M12,2 C13.5,3 14.5,4.5 14,6 M16,3.5 C17.5,5 17.8,6.5 17.2,8 M3.5,8 C4.8,7 6.5,7.2 7.5,8.5 M8.5,7.5 C9.8,8.6 11.5,8.8 12.5,8 M13.5,7.2 C14.8,8.5 16,9.5 17.5,9.2 M5,11 C6.5,10 8,10.5 9,11.8 M11,10.2 C12.5,9.6 14,10.2 14.8,11 M3.2,6.2 C3.8,5.5 5,5.6 5.6,6.4 M6.5,5 C7.5,6 8.6,6.2 9.2,5.6 M11.2,4.2 C11.8,5 12.6,5.4 13.2,5" fill="none" stroke="#8a8a8a" stroke-width="0.7"/></g>
<ellipse cx="338.90" cy="673.80" rx="2.24" ry="1.95" fill="#e5261c"/><ellipse cx="338.90" cy="673.80" rx="1.39" ry="1.21" fill="#ff8a10"/><ellipse cx="338.90" cy="673.80" rx="0.85" ry="0.74" fill="#ffe21e"/>
<path d="M578.40,692.20 A71.0,71.0 0 0 1 602.68,696.48 L596.94,712.27 A54.2,54.2 0 0 0 578.40,709.00 Z" fill="#b5e596"/>
<path d="M602.68,696.48 A71.0,71.0 0 0 1 624.04,708.81 L613.24,721.68 A54.2,54.2 0 0 0 596.94,712.27 Z" fill="#b5e596"/>
<path d="M624.04,708.81 A71.0,71.0 0 0 1 639.89,727.70 L625.34,736.10 A54.2,54.2 0 0 0 613.24,721.68 Z" fill="#b5e596"/>
<path d="M639.89,727.70 A71.0,71.0 0 0 1 648.32,750.87 L631.78,753.79 A54.2,54.2 0 0 0 625.34,736.10 Z" fill="#b5e596"/>
<path d="M648.32,750.87 A71.0,71.0 0 0 1 648.32,775.53 L631.78,772.61 A54.2,54.2 0 0 0 631.78,753.79 Z" fill="#3f7ebe"/>
<path d="M648.32,775.53 A71.0,71.0 0 0 1 639.89,798.70 L625.34,790.30 A54.2,54.2 0 0 0 631.78,772.61 Z" fill="#3f7ebe"/>
<path d="M639.89,798.70 A71.0,71.0 0 0 1 624.04,817.59 L613.24,804.72 A54.2,54.2 0 0 0 625.34,790.30 Z" fill="#3f7ebe"/>
<path d="M624.04,817.59 A71.0,71.0 0 0 1 602.68,829.92 L596.94,814.13 A54.2,54.2 0 0 0 613.24,804.72 Z" fill="#3f7ebe"/>
<path d="M602.68,829.92 A71.0,71.0 0 0 1 578.40,834.20 L578.40,817.40 A54.2,54.2 0 0 0 596.94,814.13 Z" fill="#a9d4e7"/>
<path d="M578.40,834.20 A71.0,71.0 0 0 1 554.12,829.92 L559.86,814.13 A54.2,54.2 0 0 0 578.40,817.40 Z" fill="#e2241f"/>
<path d="M554.12,829.92 A71.0,71.0 0 0 1 532.76,817.59 L543.56,804.72 A54.2,54.2 0 0 0 559.86,814.13 Z" fill="#e2241f"/>
<path d="M532.76,817.59 A71.0,71.0 0 0 1 516.91,798.70 L531.46,790.30 A54.2,54.2 0 0 0 543.56,804.72 Z" fill="#ee949a"/>
<path d="M516.91,798.70 A71.0,71.0 0 0 1 508.48,775.53 L525.02,772.61 A54.2,54.2 0 0 0 531.46,790.30 Z" fill="#ee949a"/>
<path d="M508.48,775.53 A71.0,71.0 0 0 1 508.48,750.87 L525.02,753.79 A54.2,54.2 0 0 0 525.02,772.61 Z" fill="#ee949a"/>
<path d="M508.48,750.87 A71.0,71.0 0 0 1 516.91,727.70 L531.46,736.10 A54.2,54.2 0 0 0 525.02,753.79 Z" fill="#ee949a"/>
<path d="M516.91,727.70 A71.0,71.0 0 0 1 532.76,708.81 L543.56,721.68 A54.2,54.2 0 0 0 531.46,736.10 Z" fill="#ee949a"/>
<path d="M532.76,708.81 A71.0,71.0 0 0 1 554.12,696.48 L559.86,712.27 A54.2,54.2 0 0 0 543.56,721.68 Z" fill="#b5e596"/>
<path d="M554.12,696.48 A71.0,71.0 0 0 1 578.40,692.20 L578.40,709.00 A54.2,54.2 0 0 0 559.86,712.27 Z" fill="#b5e596"/>
<line x1="578.40" y1="709.00" x2="578.40" y2="692.20" stroke="#333" stroke-width="0.4" opacity="0.85"/>
<line x1="596.94" y1="712.27" x2="602.68" y2="696.48" stroke="#333" stroke-width="0.4" opacity="0.85"/>
<line x1="613.24" y1="721.68" x2="624.04" y2="708.81" stroke="#333" stroke-width="0.4" opacity="0.85"/>
<line x1="625.34" y1="736.10" x2="639.89" y2="727.70" stroke="#333" stroke-width="0.4" opacity="0.85"/>
<line x1="631.78" y1="753.79" x2="648.32" y2="750.87" stroke="#333" stroke-width="0.4" opacity="0.85"/>
<line x1="631.78" y1="772.61" x2="648.32" y2="775.53" stroke="#333" stroke-width="0.4" opacity="0.85"/>
<line x1="625.34" y1="790.30" x2="639.89" y2="798.70" stroke="#333" stroke-width="0.4" opacity="0.85"/>
<line x1="613.24" y1="804.72" x2="624.04" y2="817.59" stroke="#333" stroke-width="0.4" opacity="0.85"/>
<line x1="596.94" y1="814.13" x2="602.68" y2="829.92" stroke="#333" stroke-width="0.4" opacity="0.85"/>
<line x1="578.40" y1="817.40" x2="578.40" y2="834.20" stroke="#333" stroke-width="0.4" opacity="0.85"/>
<line x1="559.86" y1="814.13" x2="554.12" y2="829.92" stroke="#333" stroke-width="0.4" opacity="0.85"/>
<line x1="543.56" y1="804.72" x2="532.76" y2="817.59" stroke="#333" stroke-width="0.4" opacity="0.85"/>
<line x1="531.46" y1="790.30" x2="516.91" y2="798.70" stroke="#333" stroke-width="0.4" opacity="0.85"/>
<line x1="525.02" y1="772.61" x2="508.48" y2="775.53" stroke="#333" stroke-width="0.4" opacity="0.85"/>
<line x1="525.02" y1="753.79" x2="508.48" y2="750.87" stroke="#333" stroke-width="0.4" opacity="0.85"/>
<line x1="531.46" y1="736.10" x2="516.91" y2="727.70" stroke="#333" stroke-width="0.4" opacity="0.85"/>
<line x1="543.56" y1="721.68" x2="532.76" y2="708.81" stroke="#333" stroke-width="0.4" opacity="0.85"/>
<line x1="559.86" y1="712.27" x2="554.12" y2="696.48" stroke="#333" stroke-width="0.4" opacity="0.85"/>
<text transform="translate(589.27,701.55) rotate(10.0)" font-size="3.0" font-weight="bold" text-anchor="middle" dy="1.0" fill="#1a1a1a">PreCG</text>
<text transform="translate(609.70,708.99) rotate(30.0)" font-size="3.0" font-weight="bold" text-anchor="middle" dy="1.0" fill="#1a1a1a">R-preCG</text>
<text transform="translate(626.35,722.96) rotate(50.0)" font-size="3.0" font-weight="bold" text-anchor="middle" dy="1.0" fill="#1a1a1a">L-preCG</text>
<text transform="translate(637.22,741.79) rotate(70.0)" font-size="3.0" font-weight="bold" text-anchor="middle" dy="1.0" fill="#1a1a1a">Postcer</text>
<text transform="translate(641.00,763.20) rotate(-90.0)" font-size="3.0" font-weight="bold" text-anchor="middle" dy="1.0" fill="#1a1a1a">R-STG,ITG</text>
<text transform="translate(637.22,784.61) rotate(-70.0)" font-size="3.0" font-weight="bold" text-anchor="middle" dy="1.0" fill="#1a1a1a">Ins,STG</text>
<text transform="translate(626.35,803.44) rotate(-50.0)" font-size="3.0" font-weight="bold" text-anchor="middle" dy="1.0" fill="#1a1a1a">L-IN</text>
<text transform="translate(609.70,817.41) rotate(-30.0)" font-size="3.0" font-weight="bold" text-anchor="middle" dy="1.0" fill="#1a1a1a">STG</text>
<text transform="translate(589.27,824.85) rotate(-10.0)" font-size="3.0" font-weight="bold" text-anchor="middle" dy="1.0" fill="#1a1a1a">PUT</text>
<text transform="translate(567.53,824.85) rotate(10.0)" font-size="3.0" font-weight="bold" text-anchor="middle" dy="1.0" fill="#1a1a1a">PCC,vmPFC</text>
<text transform="translate(547.10,817.41) rotate(30.0)" font-size="3.0" font-weight="bold" text-anchor="middle" dy="1.0" fill="#1a1a1a">ACC</text>
<text transform="translate(530.45,803.44) rotate(50.0)" font-size="3.0" font-weight="bold" text-anchor="middle" dy="1.0" fill="#1a1a1a">L-IPL,SFG</text>
<text transform="translate(519.58,784.61) rotate(70.0)" font-size="3.0" font-weight="bold" text-anchor="middle" dy="1.0" fill="#1a1a1a">R-FG</text>
<text transform="translate(515.80,763.20) rotate(90.0)" font-size="3.0" font-weight="bold" text-anchor="middle" dy="1.0" fill="#1a1a1a">R-IPL,SFG</text>
<text transform="translate(519.58,741.79) rotate(290.0)" font-size="3.0" font-weight="bold" text-anchor="middle" dy="1.0" fill="#1a1a1a">SFG</text>
<text transform="translate(530.45,722.96) rotate(310.0)" font-size="3.0" font-weight="bold" text-anchor="middle" dy="1.0" fill="#1a1a1a">MFC</text>
<text transform="translate(547.10,708.99) rotate(330.0)" font-size="3.0" font-weight="bold" text-anchor="middle" dy="1.0" fill="#1a1a1a">L-IPL</text>
<text transform="translate(567.53,701.55) rotate(350.0)" font-size="3.0" font-weight="bold" text-anchor="middle" dy="1.0" fill="#1a1a1a">ROAP</text>
<path d="M569.37,814.41 Q578.40,763.20 569.37,711.99" fill="none" stroke="#ee8064" stroke-width="0.7"/>
<path d="M569.37,814.41 Q578.40,763.20 587.43,711.99" fill="none" stroke="#ee8064" stroke-width="0.7"/>
<path d="M569.37,814.41 Q578.40,763.20 604.40,718.17" fill="none" stroke="#ee8064" stroke-width="0.7"/>
<path d="M569.37,814.41 Q578.40,763.20 618.23,729.78" fill="none" stroke="#ee8064" stroke-width="0.7"/>
<path d="M569.37,814.41 Q578.40,763.20 627.26,745.41" fill="none" stroke="#ee8064" stroke-width="0.7"/>
<path d="M552.40,808.23 Q578.40,763.20 569.37,711.99" fill="none" stroke="#ee8064" stroke-width="0.7"/>
<path d="M552.40,808.23 Q578.40,763.20 604.40,718.17" fill="none" stroke="#ee8064" stroke-width="0.7"/>
<path d="M552.40,808.23 Q578.40,763.20 618.23,729.78" fill="none" stroke="#ee8064" stroke-width="0.7"/>
<path d="M552.40,808.23 Q578.40,763.20 627.26,745.41" fill="none" stroke="#ee8064" stroke-width="0.7"/>
<path d="M552.40,808.23 Q578.40,763.20 587.43,711.99" fill="none" stroke="#ee8064" stroke-width="0.7"/>
<path d="M552.40,718.17 Q578.40,763.20 604.40,808.23" fill="none" stroke="#ee8064" stroke-width="0.7"/>
<path d="M538.57,729.78 Q578.40,763.20 569.37,711.99" fill="none" stroke="#ee8064" stroke-width="0.7"/>
<path d="M529.54,745.41 Q578.40,763.20 630.40,763.20" fill="none" stroke="#ee8064" stroke-width="0.7"/>
<path d="M526.40,763.20 Q578.40,763.20 618.23,796.62" fill="none" stroke="#ee8064" stroke-width="0.7"/>
<path d="M529.54,780.99 Q578.40,763.20 538.57,796.62" fill="none" stroke="#ee8064" stroke-width="0.7"/>
<path d="M627.26,745.41 Q578.40,763.20 627.26,780.99" fill="none" stroke="#ee8064" stroke-width="0.7"/>
<path d="M538.57,729.78 Q578.40,763.20 627.26,745.41" fill="none" stroke="#ee8064" stroke-width="0.7"/>
<path d="M587.43,814.41 Q578.40,763.20 569.37,711.99" fill="none" stroke="#ee8064" stroke-width="0.7"/>
<path d="M630.40,763.20 Q578.40,763.20 604.40,808.23" fill="none" stroke="#ee8064" stroke-width="0.7"/>
<path d="M618.23,729.78 Q578.40,763.20 538.57,796.62" fill="none" stroke="#ee8064" stroke-width="0.7"/>
<path id="g578_0" d="M529.37,820.61 A75.5,75.5 0 1 1 551.96,833.92" fill="none"/>
<text font-size="9.7" font-weight="bold" fill="#111"><textPath href="#g578_0" startOffset="50%" text-anchor="middle">Sensorimotor</textPath></text>
<path id="g578_1" d="M646.55,795.70 A75.5,75.5 0 1 1 653.55,770.44" fill="none"/>
<text font-size="9.7" font-weight="bold" fill="#111"><textPath href="#g578_1" startOffset="50%" text-anchor="middle">Cognitive control</textPath></text>
<path id="g578_2" d="M513.68,724.31 A75.5,75.5 0 1 1 504.29,748.79" fill="none"/>
<text font-size="9.7" font-weight="bold" fill="#111"><textPath href="#g578_2" startOffset="50%" text-anchor="middle">Temporal</textPath></text>
<path id="g578_3" d="M590.21,688.63 A75.5,75.5 0 1 1 563.99,689.09" fill="none"/>
<text font-size="9.7" font-weight="bold" fill="#111"><textPath href="#g578_3" startOffset="50%" text-anchor="middle">Subcortical Default mode</textPath></text>
<g transform="translate(593.90,672.80) scale(0.600,0.750) translate(-10.5,-8)"><path d="M2.2,9.5 C0.8,6.5 2.0,3.0 5.2,1.6 C8.0,0.3 12.5,0.2 15.5,1.4 C18.6,2.7 19.8,5.6 19.2,8.4 C18.7,10.6 17.0,11.6 15.2,11.6 C14.6,13.0 13.2,13.6 12.0,13.2 L11.6,15.6 L10.0,15.6 L9.6,13.0 C8.6,13.8 6.6,14.6 5.0,13.8 C3.4,13.2 2.6,11.6 2.2,9.5 Z" fill="#dadada" stroke="#7e7e7e" stroke-width="0.75"/><path d="M4,5 C5,3.5 6.5,3 8,3.4 M9,2.2 C10,3.5 10.5,5 10,6.5 M12,2 C13.5,3 14.5,4.5 14,6 M16,3.5 C17.5,5 17.8,6.5 17.2,8 M3.5,8 C4.8,7 6.5,7.2 7.5,8.5 M8.5,7.5 C9.8,8.6 11.5,8.8 12.5,8 M13.5,7.2 C14.8,8.5 16,9.5 17.5,9.2 M5,11 C6.5,10 8,10.5 9,11.8 M11,10.2 C12.5,9.6 14,10.2 14.8,11 M3.2,6.2 C3.8,5.5 5,5.6 5.6,6.4 M6.5,5 C7.5,6 8.6,6.2 9.2,5.6 M11.2,4.2 C11.8,5 12.6,5.4 13.2,5" fill="none" stroke="#8a8a8a" stroke-width="0.7"/></g>
<ellipse cx="593.90" cy="670.30" rx="2.00" ry="1.80" fill="#e5261c"/><ellipse cx="593.90" cy="670.30" rx="1.24" ry="1.12" fill="#ff8a10"/><ellipse cx="593.90" cy="670.30" rx="0.76" ry="0.68" fill="#ffe21e"/>
<g transform="translate(624.40,683.30) scale(-0.700,0.875) translate(-10.5,-8)"><path d="M2.2,9.5 C0.8,6.5 2.0,3.0 5.2,1.6 C8.0,0.3 12.5,0.2 15.5,1.4 C18.6,2.7 19.8,5.6 19.2,8.4 C18.7,10.6 17.0,11.6 15.2,11.6 C14.6,13.0 13.2,13.6 12.0,13.2 L11.6,15.6 L10.0,15.6 L9.6,13.0 C8.6,13.8 6.6,14.6 5.0,13.8 C3.4,13.2 2.6,11.6 2.2,9.5 Z" fill="#dadada" stroke="#7e7e7e" stroke-width="0.75"/><path d="M4,5 C5,3.5 6.5,3 8,3.4 M9,2.2 C10,3.5 10.5,5 10,6.5 M12,2 C13.5,3 14.5,4.5 14,6 M16,3.5 C17.5,5 17.8,6.5 17.2,8 M3.5,8 C4.8,7 6.5,7.2 7.5,8.5 M8.5,7.5 C9.8,8.6 11.5,8.8 12.5,8 M13.5,7.2 C14.8,8.5 16,9.5 17.5,9.2 M5,11 C6.5,10 8,10.5 9,11.8 M11,10.2 C12.5,9.6 14,10.2 14.8,11 M3.2,6.2 C3.8,5.5 5,5.6 5.6,6.4 M6.5,5 C7.5,6 8.6,6.2 9.2,5.6 M11.2,4.2 C11.8,5 12.6,5.4 13.2,5" fill="none" stroke="#8a8a8a" stroke-width="0.7"/></g>
<ellipse cx="624.40" cy="678.70" rx="2.24" ry="2.10" fill="#e5261c"/><ellipse cx="624.40" cy="678.70" rx="1.39" ry="1.30" fill="#ff8a10"/><ellipse cx="624.40" cy="678.70" rx="0.85" ry="0.80" fill="#ffe21e"/>
<g transform="translate(648.90,704.30) scale(0.700,0.812) translate(-10.5,-8)"><path d="M2.2,9.5 C0.8,6.5 2.0,3.0 5.2,1.6 C8.0,0.3 12.5,0.2 15.5,1.4 C18.6,2.7 19.8,5.6 19.2,8.4 C18.7,10.6 17.0,11.6 15.2,11.6 C14.6,13.0 13.2,13.6 12.0,13.2 L11.6,15.6 L10.0,15.6 L9.6,13.0 C8.6,13.8 6.6,14.6 5.0,13.8 C3.4,13.2 2.6,11.6 2.2,9.5 Z" fill="#dadada" stroke="#7e7e7e" stroke-width="0.75"/><path d="M4,5 C5,3.5 6.5,3 8,3.4 M9,2.2 C10,3.5 10.5,5 10,6.5 M12,2 C13.5,3 14.5,4.5 14,6 M16,3.5 C17.5,5 17.8,6.5 17.2,8 M3.5,8 C4.8,7 6.5,7.2 7.5,8.5 M8.5,7.5 C9.8,8.6 11.5,8.8 12.5,8 M13.5,7.2 C14.8,8.5 16,9.5 17.5,9.2 M5,11 C6.5,10 8,10.5 9,11.8 M11,10.2 C12.5,9.6 14,10.2 14.8,11 M3.2,6.2 C3.8,5.5 5,5.6 5.6,6.4 M6.5,5 C7.5,6 8.6,6.2 9.2,5.6 M11.2,4.2 C11.8,5 12.6,5.4 13.2,5" fill="none" stroke="#8a8a8a" stroke-width="0.7"/></g>
<ellipse cx="645.40" cy="700.10" rx="2.24" ry="1.95" fill="#e5261c"/><ellipse cx="645.40" cy="700.10" rx="1.39" ry="1.21" fill="#ff8a10"/><ellipse cx="645.40" cy="700.10" rx="0.85" ry="0.74" fill="#ffe21e"/>
<g transform="translate(665.00,732.30) scale(-0.600,0.750) translate(-10.5,-8)"><path d="M2.2,9.5 C0.8,6.5 2.0,3.0 5.2,1.6 C8.0,0.3 12.5,0.2 15.5,1.4 C18.6,2.7 19.8,5.6 19.2,8.4 C18.7,10.6 17.0,11.6 15.2,11.6 C14.6,13.0 13.2,13.6 12.0,13.2 L11.6,15.6 L10.0,15.6 L9.6,13.0 C8.6,13.8 6.6,14.6 5.0,13.8 C3.4,13.2 2.6,11.6 2.2,9.5 Z" fill="#dadada" stroke="#7e7e7e" stroke-width="0.75"/><path d="M4,5 C5,3.5 6.5,3 8,3.4 M9,2.2 C10,3.5 10.5,5 10,6.5 M12,2 C13.5,3 14.5,4.5 14,6 M16,3.5 C17.5,5 17.8,6.5 17.2,8 M3.5,8 C4.8,7 6.5,7.2 7.5,8.5 M8.5,7.5 C9.8,8.6 11.5,8.8 12.5,8 M13.5,7.2 C14.8,8.5 16,9.5 17.5,9.2 M5,11 C6.5,10 8,10.5 9,11.8 M11,10.2 C12.5,9.6 14,10.2 14.8,11 M3.2,6.2 C3.8,5.5 5,5.6 5.6,6.4 M6.5,5 C7.5,6 8.6,6.2 9.2,5.6 M11.2,4.2 C11.8,5 12.6,5.4 13.2,5" fill="none" stroke="#8a8a8a" stroke-width="0.7"/></g>
<ellipse cx="665.70" cy="730.60" rx="2.00" ry="1.80" fill="#e5261c"/><ellipse cx="665.70" cy="730.60" rx="1.24" ry="1.12" fill="#ff8a10"/><ellipse cx="665.70" cy="730.60" rx="0.76" ry="0.68" fill="#ffe21e"/>
<g transform="translate(671.00,763.90) scale(0.700,0.750) translate(-10.5,-8)"><path d="M2.2,9.5 C0.8,6.5 2.0,3.0 5.2,1.6 C8.0,0.3 12.5,0.2 15.5,1.4 C18.6,2.7 19.8,5.6 19.2,8.4 C18.7,10.6 17.0,11.6 15.2,11.6 C14.6,13.0 13.2,13.6 12.0,13.2 L11.6,15.6 L10.0,15.6 L9.6,13.0 C8.6,13.8 6.6,14.6 5.0,13.8 C3.4,13.2 2.6,11.6 2.2,9.5 Z" fill="#dadada" stroke="#7e7e7e" stroke-width="0.75"/><path d="M4,5 C5,3.5 6.5,3 8,3.4 M9,2.2 C10,3.5 10.5,5 10,6.5 M12,2 C13.5,3 14.5,4.5 14,6 M16,3.5 C17.5,5 17.8,6.5 17.2,8 M3.5,8 C4.8,7 6.5,7.2 7.5,8.5 M8.5,7.5 C9.8,8.6 11.5,8.8 12.5,8 M13.5,7.2 C14.8,8.5 16,9.5 17.5,9.2 M5,11 C6.5,10 8,10.5 9,11.8 M11,10.2 C12.5,9.6 14,10.2 14.8,11 M3.2,6.2 C3.8,5.5 5,5.6 5.6,6.4 M6.5,5 C7.5,6 8.6,6.2 9.2,5.6 M11.2,4.2 C11.8,5 12.6,5.4 13.2,5" fill="none" stroke="#8a8a8a" stroke-width="0.7"/></g>
<ellipse cx="666.40" cy="762.80" rx="2.24" ry="1.80" fill="#e5261c"/><ellipse cx="666.40" cy="762.80" rx="1.39" ry="1.12" fill="#ff8a10"/><ellipse cx="666.40" cy="762.80" rx="0.85" ry="0.68" fill="#ffe21e"/>
<g transform="translate(665.70,795.40) scale(-0.700,0.812) translate(-10.5,-8)"><path d="M2.2,9.5 C0.8,6.5 2.0,3.0 5.2,1.6 C8.0,0.3 12.5,0.2 15.5,1.4 C18.6,2.7 19.8,5.6 19.2,8.4 C18.7,10.6 17.0,11.6 15.2,11.6 C14.6,13.0 13.2,13.6 12.0,13.2 L11.6,15.6 L10.0,15.6 L9.6,13.0 C8.6,13.8 6.6,14.6 5.0,13.8 C3.4,13.2 2.6,11.6 2.2,9.5 Z" fill="#dadada" stroke="#7e7e7e" stroke-width="0.75"/><path d="M4,5 C5,3.5 6.5,3 8,3.4 M9,2.2 C10,3.5 10.5,5 10,6.5 M12,2 C13.5,3 14.5,4.5 14,6 M16,3.5 C17.5,5 17.8,6.5 17.2,8 M3.5,8 C4.8,7 6.5,7.2 7.5,8.5 M8.5,7.5 C9.8,8.6 11.5,8.8 12.5,8 M13.5,7.2 C14.8,8.5 16,9.5 17.5,9.2 M5,11 C6.5,10 8,10.5 9,11.8 M11,10.2 C12.5,9.6 14,10.2 14.8,11 M3.2,6.2 C3.8,5.5 5,5.6 5.6,6.4 M6.5,5 C7.5,6 8.6,6.2 9.2,5.6 M11.2,4.2 C11.8,5 12.6,5.4 13.2,5" fill="none" stroke="#8a8a8a" stroke-width="0.7"/></g>
<ellipse cx="667.50" cy="798.90" rx="2.24" ry="1.95" fill="#e5261c"/><ellipse cx="667.50" cy="798.90" rx="1.39" ry="1.21" fill="#ff8a10"/><ellipse cx="667.50" cy="798.90" rx="0.85" ry="0.74" fill="#ffe21e"/>
<g transform="translate(650.00,823.40) scale(0.700,0.812) translate(-10.5,-8)"><path d="M2.2,9.5 C0.8,6.5 2.0,3.0 5.2,1.6 C8.0,0.3 12.5,0.2 15.5,1.4 C18.6,2.7 19.8,5.6 19.2,8.4 C18.7,10.6 17.0,11.6 15.2,11.6 C14.6,13.0 13.2,13.6 12.0,13.2 L11.6,15.6 L10.0,15.6 L9.6,13.0 C8.6,13.8 6.6,14.6 5.0,13.8 C3.4,13.2 2.6,11.6 2.2,9.5 Z" fill="#dadada" stroke="#7e7e7e" stroke-width="0.75"/><path d="M4,5 C5,3.5 6.5,3 8,3.4 M9,2.2 C10,3.5 10.5,5 10,6.5 M12,2 C13.5,3 14.5,4.5 14,6 M16,3.5 C17.5,5 17.8,6.5 17.2,8 M3.5,8 C4.8,7 6.5,7.2 7.5,8.5 M8.5,7.5 C9.8,8.6 11.5,8.8 12.5,8 M13.5,7.2 C14.8,8.5 16,9.5 17.5,9.2 M5,11 C6.5,10 8,10.5 9,11.8 M11,10.2 C12.5,9.6 14,10.2 14.8,11 M3.2,6.2 C3.8,5.5 5,5.6 5.6,6.4 M6.5,5 C7.5,6 8.6,6.2 9.2,5.6 M11.2,4.2 C11.8,5 12.6,5.4 13.2,5" fill="none" stroke="#8a8a8a" stroke-width="0.7"/></g>
<ellipse cx="651.70" cy="827.00" rx="2.24" ry="1.95" fill="#e5261c"/><ellipse cx="651.70" cy="827.00" rx="1.39" ry="1.21" fill="#ff8a10"/><ellipse cx="651.70" cy="827.00" rx="0.85" ry="0.74" fill="#ffe21e"/>
<g transform="translate(624.70,843.40) scale(-0.500,0.562) translate(-10.5,-8)"><path d="M2.2,9.5 C0.8,6.5 2.0,3.0 5.2,1.6 C8.0,0.3 12.5,0.2 15.5,1.4 C18.6,2.7 19.8,5.6 19.2,8.4 C18.7,10.6 17.0,11.6 15.2,11.6 C14.6,13.0 13.2,13.6 12.0,13.2 L11.6,15.6 L10.0,15.6 L9.6,13.0 C8.6,13.8 6.6,14.6 5.0,13.8 C3.4,13.2 2.6,11.6 2.2,9.5 Z" fill="#dadada" stroke="#7e7e7e" stroke-width="0.75"/><path d="M4,5 C5,3.5 6.5,3 8,3.4 M9,2.2 C10,3.5 10.5,5 10,6.5 M12,2 C13.5,3 14.5,4.5 14,6 M16,3.5 C17.5,5 17.8,6.5 17.2,8 M3.5,8 C4.8,7 6.5,7.2 7.5,8.5 M8.5,7.5 C9.8,8.6 11.5,8.8 12.5,8 M13.5,7.2 C14.8,8.5 16,9.5 17.5,9.2 M5,11 C6.5,10 8,10.5 9,11.8 M11,10.2 C12.5,9.6 14,10.2 14.8,11 M3.2,6.2 C3.8,5.5 5,5.6 5.6,6.4 M6.5,5 C7.5,6 8.6,6.2 9.2,5.6 M11.2,4.2 C11.8,5 12.6,5.4 13.2,5" fill="none" stroke="#8a8a8a" stroke-width="0.7"/></g>
<ellipse cx="624.70" cy="843.40" rx="2.00" ry="1.70" fill="#e5261c"/><ellipse cx="624.70" cy="843.40" rx="1.24" ry="1.05" fill="#ff8a10"/><ellipse cx="624.70" cy="843.40" rx="0.76" ry="0.65" fill="#ffe21e"/>
<g transform="translate(595.00,855.00) scale(0.800,0.875) translate(-10.5,-8)"><path d="M2.2,9.5 C0.8,6.5 2.0,3.0 5.2,1.6 C8.0,0.3 12.5,0.2 15.5,1.4 C18.6,2.7 19.8,5.6 19.2,8.4 C18.7,10.6 17.0,11.6 15.2,11.6 C14.6,13.0 13.2,13.6 12.0,13.2 L11.6,15.6 L10.0,15.6 L9.6,13.0 C8.6,13.8 6.6,14.6 5.0,13.8 C3.4,13.2 2.6,11.6 2.2,9.5 Z" fill="#dadada" stroke="#7e7e7e" stroke-width="0.75"/><path d="M4,5 C5,3.5 6.5,3 8,3.4 M9,2.2 C10,3.5 10.5,5 10,6.5 M12,2 C13.5,3 14.5,4.5 14,6 M16,3.5 C17.5,5 17.8,6.5 17.2,8 M3.5,8 C4.8,7 6.5,7.2 7.5,8.5 M8.5,7.5 C9.8,8.6 11.5,8.8 12.5,8 M13.5,7.2 C14.8,8.5 16,9.5 17.5,9.2 M5,11 C6.5,10 8,10.5 9,11.8 M11,10.2 C12.5,9.6 14,10.2 14.8,11 M3.2,6.2 C3.8,5.5 5,5.6 5.6,6.4 M6.5,5 C7.5,6 8.6,6.2 9.2,5.6 M11.2,4.2 C11.8,5 12.6,5.4 13.2,5" fill="none" stroke="#8a8a8a" stroke-width="0.7"/></g>
<ellipse cx="595.70" cy="856.70" rx="2.56" ry="2.10" fill="#e5261c"/><ellipse cx="595.70" cy="856.70" rx="1.59" ry="1.30" fill="#ff8a10"/><ellipse cx="595.70" cy="856.70" rx="0.97" ry="0.80" fill="#ffe21e"/>
<g transform="translate(562.40,855.00) scale(-0.800,0.875) translate(-10.5,-8)"><path d="M2.2,9.5 C0.8,6.5 2.0,3.0 5.2,1.6 C8.0,0.3 12.5,0.2 15.5,1.4 C18.6,2.7 19.8,5.6 19.2,8.4 C18.7,10.6 17.0,11.6 15.2,11.6 C14.6,13.0 13.2,13.6 12.0,13.2 L11.6,15.6 L10.0,15.6 L9.6,13.0 C8.6,13.8 6.6,14.6 5.0,13.8 C3.4,13.2 2.6,11.6 2.2,9.5 Z" fill="#dadada" stroke="#7e7e7e" stroke-width="0.75"/><path d="M4,5 C5,3.5 6.5,3 8,3.4 M9,2.2 C10,3.5 10.5,5 10,6.5 M12,2 C13.5,3 14.5,4.5 14,6 M16,3.5 C17.5,5 17.8,6.5 17.2,8 M3.5,8 C4.8,7 6.5,7.2 7.5,8.5 M8.5,7.5 C9.8,8.6 11.5,8.8 12.5,8 M13.5,7.2 C14.8,8.5 16,9.5 17.5,9.2 M5,11 C6.5,10 8,10.5 9,11.8 M11,10.2 C12.5,9.6 14,10.2 14.8,11 M3.2,6.2 C3.8,5.5 5,5.6 5.6,6.4 M6.5,5 C7.5,6 8.6,6.2 9.2,5.6 M11.2,4.2 C11.8,5 12.6,5.4 13.2,5" fill="none" stroke="#8a8a8a" stroke-width="0.7"/></g>
<ellipse cx="565.90" cy="853.20" rx="2.56" ry="2.10" fill="#e5261c"/><ellipse cx="565.90" cy="853.20" rx="1.59" ry="1.30" fill="#ff8a10"/><ellipse cx="565.90" cy="853.20" rx="0.97" ry="0.80" fill="#ffe21e"/>
<g transform="translate(532.60,844.50) scale(0.875,0.875) translate(-10.5,-8)"><path d="M2.2,9.5 C0.8,6.5 2.0,3.0 5.2,1.6 C8.0,0.3 12.5,0.2 15.5,1.4 C18.6,2.7 19.8,5.6 19.2,8.4 C18.7,10.6 17.0,11.6 15.2,11.6 C14.6,13.0 13.2,13.6 12.0,13.2 L11.6,15.6 L10.0,15.6 L9.6,13.0 C8.6,13.8 6.6,14.6 5.0,13.8 C3.4,13.2 2.6,11.6 2.2,9.5 Z" fill="#dadada" stroke="#7e7e7e" stroke-width="0.75"/><path d="M4,5 C5,3.5 6.5,3 8,3.4 M9,2.2 C10,3.5 10.5,5 10,6.5 M12,2 C13.5,3 14.5,4.5 14,6 M16,3.5 C17.5,5 17.8,6.5 17.2,8 M3.5,8 C4.8,7 6.5,7.2 7.5,8.5 M8.5,7.5 C9.8,8.6 11.5,8.8 12.5,8 M13.5,7.2 C14.8,8.5 16,9.5 17.5,9.2 M5,11 C6.5,10 8,10.5 9,11.8 M11,10.2 C12.5,9.6 14,10.2 14.8,11 M3.2,6.2 C3.8,5.5 5,5.6 5.6,6.4 M6.5,5 C7.5,6 8.6,6.2 9.2,5.6 M11.2,4.2 C11.8,5 12.6,5.4 13.2,5" fill="none" stroke="#8a8a8a" stroke-width="0.7"/></g>
<ellipse cx="537.90" cy="844.50" rx="2.80" ry="2.10" fill="#e5261c"/><ellipse cx="537.90" cy="844.50" rx="1.74" ry="1.30" fill="#ff8a10"/><ellipse cx="537.90" cy="844.50" rx="1.06" ry="0.80" fill="#ffe21e"/>
<g transform="translate(506.30,823.40) scale(-0.800,0.812) translate(-10.5,-8)"><path d="M2.2,9.5 C0.8,6.5 2.0,3.0 5.2,1.6 C8.0,0.3 12.5,0.2 15.5,1.4 C18.6,2.7 19.8,5.6 19.2,8.4 C18.7,10.6 17.0,11.6 15.2,11.6 C14.6,13.0 13.2,13.6 12.0,13.2 L11.6,15.6 L10.0,15.6 L9.6,13.0 C8.6,13.8 6.6,14.6 5.0,13.8 C3.4,13.2 2.6,11.6 2.2,9.5 Z" fill="#dadada" stroke="#7e7e7e" stroke-width="0.75"/><path d="M4,5 C5,3.5 6.5,3 8,3.4 M9,2.2 C10,3.5 10.5,5 10,6.5 M12,2 C13.5,3 14.5,4.5 14,6 M16,3.5 C17.5,5 17.8,6.5 17.2,8 M3.5,8 C4.8,7 6.5,7.2 7.5,8.5 M8.5,7.5 C9.8,8.6 11.5,8.8 12.5,8 M13.5,7.2 C14.8,8.5 16,9.5 17.5,9.2 M5,11 C6.5,10 8,10.5 9,11.8 M11,10.2 C12.5,9.6 14,10.2 14.8,11 M3.2,6.2 C3.8,5.5 5,5.6 5.6,6.4 M6.5,5 C7.5,6 8.6,6.2 9.2,5.6 M11.2,4.2 C11.8,5 12.6,5.4 13.2,5" fill="none" stroke="#8a8a8a" stroke-width="0.7"/></g>
<ellipse cx="511.60" cy="822.40" rx="2.56" ry="1.95" fill="#e5261c"/><ellipse cx="511.60" cy="822.40" rx="1.59" ry="1.21" fill="#ff8a10"/><ellipse cx="511.60" cy="822.40" rx="0.97" ry="0.74" fill="#ffe21e"/>
<g transform="translate(490.50,795.40) scale(0.600,0.750) translate(-10.5,-8)"><path d="M2.2,9.5 C0.8,6.5 2.0,3.0 5.2,1.6 C8.0,0.3 12.5,0.2 15.5,1.4 C18.6,2.7 19.8,5.6 19.2,8.4 C18.7,10.6 17.0,11.6 15.2,11.6 C14.6,13.0 13.2,13.6 12.0,13.2 L11.6,15.6 L10.0,15.6 L9.6,13.0 C8.6,13.8 6.6,14.6 5.0,13.8 C3.4,13.2 2.6,11.6 2.2,9.5 Z" fill="#dadada" stroke="#7e7e7e" stroke-width="0.75"/><path d="M4,5 C5,3.5 6.5,3 8,3.4 M9,2.2 C10,3.5 10.5,5 10,6.5 M12,2 C13.5,3 14.5,4.5 14,6 M16,3.5 C17.5,5 17.8,6.5 17.2,8 M3.5,8 C4.8,7 6.5,7.2 7.5,8.5 M8.5,7.5 C9.8,8.6 11.5,8.8 12.5,8 M13.5,7.2 C14.8,8.5 16,9.5 17.5,9.2 M5,11 C6.5,10 8,10.5 9,11.8 M11,10.2 C12.5,9.6 14,10.2 14.8,11 M3.2,6.2 C3.8,5.5 5,5.6 5.6,6.4 M6.5,5 C7.5,6 8.6,6.2 9.2,5.6 M11.2,4.2 C11.8,5 12.6,5.4 13.2,5" fill="none" stroke="#8a8a8a" stroke-width="0.7"/></g>
<ellipse cx="493.30" cy="794.40" rx="2.00" ry="1.80" fill="#e5261c"/><ellipse cx="493.30" cy="794.40" rx="1.24" ry="1.12" fill="#ff8a10"/><ellipse cx="493.30" cy="794.40" rx="0.76" ry="0.68" fill="#ffe21e"/>
<g transform="translate(485.30,763.90) scale(-0.700,0.812) translate(-10.5,-8)"><path d="M2.2,9.5 C0.8,6.5 2.0,3.0 5.2,1.6 C8.0,0.3 12.5,0.2 15.5,1.4 C18.6,2.7 19.8,5.6 19.2,8.4 C18.7,10.6 17.0,11.6 15.2,11.6 C14.6,13.0 13.2,13.6 12.0,13.2 L11.6,15.6 L10.0,15.6 L9.6,13.0 C8.6,13.8 6.6,14.6 5.0,13.8 C3.4,13.2 2.6,11.6 2.2,9.5 Z" fill="#dadada" stroke="#7e7e7e" stroke-width="0.75"/><path d="M4,5 C5,3.5 6.5,3 8,3.4 M9,2.2 C10,3.5 10.5,5 10,6.5 M12,2 C13.5,3 14.5,4.5 14,6 M16,3.5 C17.5,5 17.8,6.5 17.2,8 M3.5,8 C4.8,7 6.5,7.2 7.5,8.5 M8.5,7.5 C9.8,8.6 11.5,8.8 12.5,8 M13.5,7.2 C14.8,8.5 16,9.5 17.5,9.2 M5,11 C6.5,10 8,10.5 9,11.8 M11,10.2 C12.5,9.6 14,10.2 14.8,11 M3.2,6.2 C3.8,5.5 5,5.6 5.6,6.4 M6.5,5 C7.5,6 8.6,6.2 9.2,5.6 M11.2,4.2 C11.8,5 12.6,5.4 13.2,5" fill="none" stroke="#8a8a8a" stroke-width="0.7"/></g>
<ellipse cx="489.80" cy="762.10" rx="2.24" ry="1.95" fill="#e5261c"/><ellipse cx="489.80" cy="762.10" rx="1.39" ry="1.21" fill="#ff8a10"/><ellipse cx="489.80" cy="762.10" rx="0.85" ry="0.74" fill="#ffe21e"/>
<g transform="translate(490.50,732.30) scale(0.800,0.938) translate(-10.5,-8)"><path d="M2.2,9.5 C0.8,6.5 2.0,3.0 5.2,1.6 C8.0,0.3 12.5,0.2 15.5,1.4 C18.6,2.7 19.8,5.6 19.2,8.4 C18.7,10.6 17.0,11.6 15.2,11.6 C14.6,13.0 13.2,13.6 12.0,13.2 L11.6,15.6 L10.0,15.6 L9.6,13.0 C8.6,13.8 6.6,14.6 5.0,13.8 C3.4,13.2 2.6,11.6 2.2,9.5 Z" fill="#dadada" stroke="#7e7e7e" stroke-width="0.75"/><path d="M4,5 C5,3.5 6.5,3 8,3.4 M9,2.2 C10,3.5 10.5,5 10,6.5 M12,2 C13.5,3 14.5,4.5 14,6 M16,3.5 C17.5,5 17.8,6.5 17.2,8 M3.5,8 C4.8,7 6.5,7.2 7.5,8.5 M8.5,7.5 C9.8,8.6 11.5,8.8 12.5,8 M13.5,7.2 C14.8,8.5 16,9.5 17.5,9.2 M5,11 C6.5,10 8,10.5 9,11.8 M11,10.2 C12.5,9.6 14,10.2 14.8,11 M3.2,6.2 C3.8,5.5 5,5.6 5.6,6.4 M6.5,5 C7.5,6 8.6,6.2 9.2,5.6 M11.2,4.2 C11.8,5 12.6,5.4 13.2,5" fill="none" stroke="#8a8a8a" stroke-width="0.7"/></g>
<ellipse cx="496.90" cy="729.90" rx="2.56" ry="2.25" fill="#e5261c"/><ellipse cx="496.90" cy="729.90" rx="1.59" ry="1.40" fill="#ff8a10"/><ellipse cx="496.90" cy="729.90" rx="0.97" ry="0.85" fill="#ffe21e"/>
<g transform="translate(506.30,704.30) scale(-0.875,0.875) translate(-10.5,-8)"><path d="M2.2,9.5 C0.8,6.5 2.0,3.0 5.2,1.6 C8.0,0.3 12.5,0.2 15.5,1.4 C18.6,2.7 19.8,5.6 19.2,8.4 C18.7,10.6 17.0,11.6 15.2,11.6 C14.6,13.0 13.2,13.6 12.0,13.2 L11.6,15.6 L10.0,15.6 L9.6,13.0 C8.6,13.8 6.6,14.6 5.0,13.8 C3.4,13.2 2.6,11.6 2.2,9.5 Z" fill="#dadada" stroke="#7e7e7e" stroke-width="0.75"/><path d="M4,5 C5,3.5 6.5,3 8,3.4 M9,2.2 C10,3.5 10.5,5 10,6.5 M12,2 C13.5,3 14.5,4.5 14,6 M16,3.5 C17.5,5 17.8,6.5 17.2,8 M3.5,8 C4.8,7 6.5,7.2 7.5,8.5 M8.5,7.5 C9.8,8.6 11.5,8.8 12.5,8 M13.5,7.2 C14.8,8.5 16,9.5 17.5,9.2 M5,11 C6.5,10 8,10.5 9,11.8 M11,10.2 C12.5,9.6 14,10.2 14.8,11 M3.2,6.2 C3.8,5.5 5,5.6 5.6,6.4 M6.5,5 C7.5,6 8.6,6.2 9.2,5.6 M11.2,4.2 C11.8,5 12.6,5.4 13.2,5" fill="none" stroke="#8a8a8a" stroke-width="0.7"/></g>
<ellipse cx="512.30" cy="702.60" rx="2.80" ry="2.10" fill="#e5261c"/><ellipse cx="512.30" cy="702.60" rx="1.74" ry="1.30" fill="#ff8a10"/><ellipse cx="512.30" cy="702.60" rx="1.06" ry="0.80" fill="#ffe21e"/>
<g transform="translate(531.90,683.30) scale(0.600,0.750) translate(-10.5,-8)"><path d="M2.2,9.5 C0.8,6.5 2.0,3.0 5.2,1.6 C8.0,0.3 12.5,0.2 15.5,1.4 C18.6,2.7 19.8,5.6 19.2,8.4 C18.7,10.6 17.0,11.6 15.2,11.6 C14.6,13.0 13.2,13.6 12.0,13.2 L11.6,15.6 L10.0,15.6 L9.6,13.0 C8.6,13.8 6.6,14.6 5.0,13.8 C3.4,13.2 2.6,11.6 2.2,9.5 Z" fill="#dadada" stroke="#7e7e7e" stroke-width="0.75"/><path d="M4,5 C5,3.5 6.5,3 8,3.4 M9,2.2 C10,3.5 10.5,5 10,6.5 M12,2 C13.5,3 14.5,4.5 14,6 M16,3.5 C17.5,5 17.8,6.5 17.2,8 M3.5,8 C4.8,7 6.5,7.2 7.5,8.5 M8.5,7.5 C9.8,8.6 11.5,8.8 12.5,8 M13.5,7.2 C14.8,8.5 16,9.5 17.5,9.2 M5,11 C6.5,10 8,10.5 9,11.8 M11,10.2 C12.5,9.6 14,10.2 14.8,11 M3.2,6.2 C3.8,5.5 5,5.6 5.6,6.4 M6.5,5 C7.5,6 8.6,6.2 9.2,5.6 M11.2,4.2 C11.8,5 12.6,5.4 13.2,5" fill="none" stroke="#8a8a8a" stroke-width="0.7"/></g>
<ellipse cx="535.40" cy="683.30" rx="2.00" ry="1.80" fill="#e5261c"/><ellipse cx="535.40" cy="683.30" rx="1.24" ry="1.12" fill="#ff8a10"/><ellipse cx="535.40" cy="683.30" rx="0.76" ry="0.68" fill="#ffe21e"/>
<g transform="translate(562.40,672.80) scale(-0.700,0.812) translate(-10.5,-8)"><path d="M2.2,9.5 C0.8,6.5 2.0,3.0 5.2,1.6 C8.0,0.3 12.5,0.2 15.5,1.4 C18.6,2.7 19.8,5.6 19.2,8.4 C18.7,10.6 17.0,11.6 15.2,11.6 C14.6,13.0 13.2,13.6 12.0,13.2 L11.6,15.6 L10.0,15.6 L9.6,13.0 C8.6,13.8 6.6,14.6 5.0,13.8 C3.4,13.2 2.6,11.6 2.2,9.5 Z" fill="#dadada" stroke="#7e7e7e" stroke-width="0.75"/><path d="M4,5 C5,3.5 6.5,3 8,3.4 M9,2.2 C10,3.5 10.5,5 10,6.5 M12,2 C13.5,3 14.5,4.5 14,6 M16,3.5 C17.5,5 17.8,6.5 17.2,8 M3.5,8 C4.8,7 6.5,7.2 7.5,8.5 M8.5,7.5 C9.8,8.6 11.5,8.8 12.5,8 M13.5,7.2 C14.8,8.5 16,9.5 17.5,9.2 M5,11 C6.5,10 8,10.5 9,11.8 M11,10.2 C12.5,9.6 14,10.2 14.8,11 M3.2,6.2 C3.8,5.5 5,5.6 5.6,6.4 M6.5,5 C7.5,6 8.6,6.2 9.2,5.6 M11.2,4.2 C11.8,5 12.6,5.4 13.2,5" fill="none" stroke="#8a8a8a" stroke-width="0.7"/></g>
<ellipse cx="562.40" cy="672.80" rx="2.24" ry="1.95" fill="#e5261c"/><ellipse cx="562.40" cy="672.80" rx="1.39" ry="1.21" fill="#ff8a10"/><ellipse cx="562.40" cy="672.80" rx="0.85" ry="0.74" fill="#ffe21e"/>
</svg>
</body></html>
